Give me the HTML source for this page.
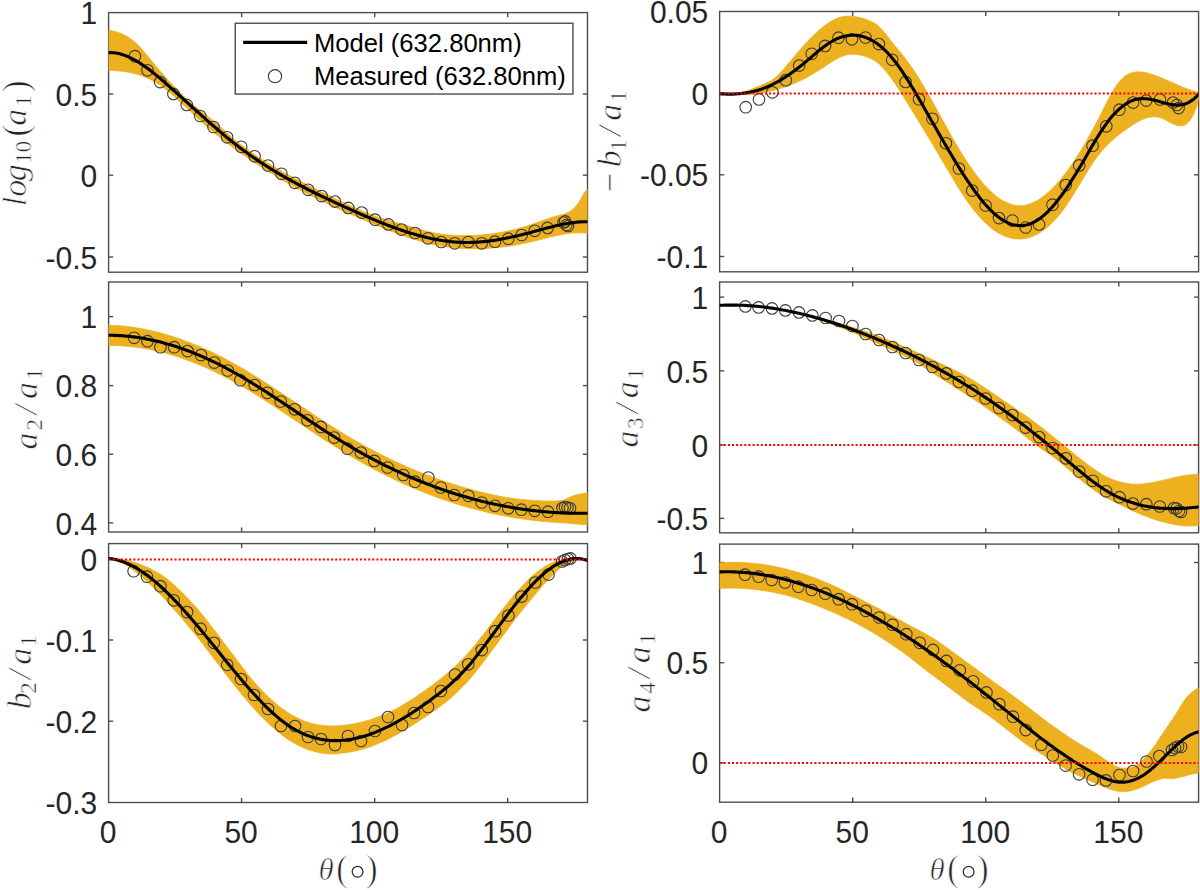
<!DOCTYPE html>
<html><head><meta charset="utf-8"><style>
html,body{margin:0;padding:0;background:#fff;width:1200px;height:890px;overflow:hidden}
svg{display:block}
.tk{font-family:"Liberation Sans",sans-serif;font-size:30px;fill:#262626}
.lg{font-family:"Liberation Sans",sans-serif;font-size:25.6px;fill:#000}
.yl{font-family:"Liberation Serif",serif;font-style:italic;font-size:34px;fill:#262626;stroke:#fff;stroke-width:0.7px}
.ys{font-family:"Liberation Serif",serif;font-size:23px;fill:#262626;stroke:#fff;stroke-width:0.5px}
.yp{font-family:"Liberation Serif",serif;font-size:38px;fill:#262626;stroke:#fff;stroke-width:0.9px}
.ym{font-family:"Liberation Serif",serif;font-size:34px;fill:#262626;stroke:#fff;stroke-width:0.5px}
.th{font-family:"Liberation Serif",serif;font-style:italic;font-size:31px;fill:#262626;stroke:#fff;stroke-width:0.7px}
.xp{font-family:"Liberation Serif",serif;font-size:37px;fill:#262626;stroke:#fff;stroke-width:0.9px}
</style></head><body>
<svg width="1200" height="890" viewBox="0 0 1200 890">
<rect width="1200" height="890" fill="#fff"/>
<clipPath id="cs1"><rect x="108.6" y="12.6" width="478.9" height="259.6"/></clipPath>
<rect x="108.6" y="12.6" width="478.9" height="259.6" fill="none" stroke="#4d4d4d" stroke-width="1.4"/>
<line x1="108.6" y1="94" x2="113.19999999999999" y2="94" stroke="#4d4d4d" stroke-width="1.4"/>
<line x1="587.5" y1="94" x2="582.9" y2="94" stroke="#4d4d4d" stroke-width="1.4"/>
<line x1="108.6" y1="175.2" x2="113.19999999999999" y2="175.2" stroke="#4d4d4d" stroke-width="1.4"/>
<line x1="587.5" y1="175.2" x2="582.9" y2="175.2" stroke="#4d4d4d" stroke-width="1.4"/>
<line x1="108.6" y1="257" x2="113.19999999999999" y2="257" stroke="#4d4d4d" stroke-width="1.4"/>
<line x1="587.5" y1="257" x2="582.9" y2="257" stroke="#4d4d4d" stroke-width="1.4"/>
<line x1="241.6" y1="12.6" x2="241.6" y2="17.2" stroke="#4d4d4d" stroke-width="1.4"/>
<line x1="241.6" y1="272.2" x2="241.6" y2="267.59999999999997" stroke="#4d4d4d" stroke-width="1.4"/>
<line x1="374.7" y1="12.6" x2="374.7" y2="17.2" stroke="#4d4d4d" stroke-width="1.4"/>
<line x1="374.7" y1="272.2" x2="374.7" y2="267.59999999999997" stroke="#4d4d4d" stroke-width="1.4"/>
<line x1="507.7" y1="12.6" x2="507.7" y2="17.2" stroke="#4d4d4d" stroke-width="1.4"/>
<line x1="507.7" y1="272.2" x2="507.7" y2="267.59999999999997" stroke="#4d4d4d" stroke-width="1.4"/>
<g clip-path="url(#cs1)">
<polygon points="107.6,30.1 109.2,30.3 110.8,30.6 112.4,30.9 114.0,31.3 115.6,31.7 117.3,32.2 118.9,32.7 120.5,33.3 122.1,34.0 123.7,34.7 125.3,35.5 126.9,36.4 128.5,37.4 130.1,38.4 131.7,39.6 133.3,40.9 134.9,42.2 136.6,43.7 138.2,45.2 139.8,46.9 141.4,48.7 143.0,50.5 144.6,52.4 146.2,54.3 147.8,56.2 149.4,58.2 151.0,60.2 152.6,62.2 154.2,64.1 155.9,66.0 157.5,68.0 159.1,69.8 160.7,71.7 162.3,73.6 163.9,75.4 165.5,77.2 167.1,79.0 168.7,80.8 170.3,82.6 171.9,84.3 173.5,86.0 175.2,87.7 176.8,89.3 178.4,91.0 180.0,92.6 181.6,94.2 183.2,95.7 184.8,97.3 186.4,98.8 188.0,100.3 189.6,101.7 191.2,103.2 192.8,104.6 194.5,106.0 196.1,107.3 197.7,108.6 199.3,109.9 200.9,111.2 202.5,112.4 204.1,113.7 205.7,114.9 207.3,116.1 208.9,117.3 210.5,118.6 212.1,119.8 213.8,121.2 215.4,122.5 217.0,123.9 218.6,125.3 220.2,126.8 221.8,128.2 223.4,129.7 225.0,131.2 226.6,132.7 228.2,134.1 229.8,135.6 231.4,137.0 233.1,138.4 234.7,139.7 236.3,141.0 237.9,142.3 239.5,143.6 241.1,144.8 242.7,146.1 244.3,147.3 245.9,148.4 247.5,149.6 249.1,150.8 250.7,151.9 252.4,153.0 254.0,154.1 255.6,155.2 257.2,156.3 258.8,157.3 260.4,158.4 262.0,159.4 263.6,160.4 265.2,161.4 266.8,162.4 268.4,163.4 270.0,164.4 271.7,165.4 273.3,166.3 274.9,167.3 276.5,168.2 278.1,169.2 279.7,170.1 281.3,171.0 282.9,171.9 284.5,172.8 286.1,173.7 287.7,174.6 289.3,175.4 291.0,176.3 292.6,177.2 294.2,178.0 295.8,178.9 297.4,179.7 299.0,180.6 300.6,181.4 302.2,182.2 303.8,183.1 305.4,183.9 307.0,184.7 308.6,185.5 310.3,186.3 311.9,187.1 313.5,187.9 315.1,188.7 316.7,189.5 318.3,190.3 319.9,191.1 321.5,191.9 323.1,192.7 324.7,193.5 326.3,194.3 327.9,195.1 329.6,195.9 331.2,196.7 332.8,197.5 334.4,198.3 336.0,199.1 337.6,199.8 339.2,200.6 340.8,201.4 342.4,202.2 344.0,202.9 345.6,203.7 347.2,204.4 348.9,205.2 350.5,205.9 352.1,206.6 353.7,207.3 355.3,208.1 356.9,208.8 358.5,209.5 360.1,210.1 361.7,210.8 363.3,211.5 364.9,212.2 366.5,212.8 368.2,213.5 369.8,214.1 371.4,214.7 373.0,215.3 374.6,215.9 376.2,216.5 377.8,217.1 379.4,217.6 381.0,218.2 382.6,218.7 384.2,219.2 385.8,219.8 387.5,220.3 389.1,220.7 390.7,221.2 392.3,221.7 393.9,222.1 395.5,222.5 397.1,223.0 398.7,223.4 400.3,223.8 401.9,224.3 403.5,224.8 405.1,225.2 406.8,225.7 408.4,226.2 410.0,226.6 411.6,227.1 413.2,227.6 414.8,228.0 416.4,228.5 418.0,228.9 419.6,229.4 421.2,229.8 422.8,230.3 424.4,230.7 426.1,231.1 427.7,231.5 429.3,231.9 430.9,232.2 432.5,232.6 434.1,232.9 435.7,233.2 437.3,233.5 438.9,233.7 440.5,234.0 442.1,234.2 443.7,234.4 445.4,234.6 447.0,234.8 448.6,234.9 450.2,235.0 451.8,235.2 453.4,235.3 455.0,235.4 456.6,235.4 458.2,235.5 459.8,235.5 461.4,235.6 463.0,235.6 464.7,235.6 466.3,235.6 467.9,235.6 469.5,235.5 471.1,235.5 472.7,235.4 474.3,235.3 475.9,235.3 477.5,235.2 479.1,235.1 480.7,234.9 482.3,234.8 484.0,234.7 485.6,234.5 487.2,234.3 488.8,234.2 490.4,234.0 492.0,233.8 493.6,233.5 495.2,233.3 496.8,233.1 498.4,232.8 500.0,232.5 501.6,232.2 503.3,231.9 504.9,231.6 506.5,231.3 508.1,231.0 509.7,230.6 511.3,230.3 512.9,229.9 514.5,229.5 516.1,229.1 517.7,228.7 519.3,228.2 520.9,227.8 522.6,227.3 524.2,226.9 525.8,226.4 527.4,225.9 529.0,225.4 530.6,224.9 532.2,224.3 533.8,223.8 535.4,223.2 537.0,222.6 538.6,222.1 540.2,221.5 541.9,220.9 543.5,220.3 545.1,219.7 546.7,219.2 548.3,218.6 549.9,218.1 551.5,217.5 553.1,217.0 554.7,216.5 556.3,216.1 557.9,215.6 559.5,215.2 561.2,214.8 562.8,214.4 564.4,214.0 566.0,213.4 567.6,212.7 569.2,211.9 570.8,210.9 572.4,209.7 574.0,208.3 575.6,206.6 577.2,204.6 578.8,202.3 580.5,199.6 582.1,196.6 583.7,193.8 585.3,191.4 586.9,189.9 588.5,189.5 588.5,233.4 586.9,233.2 585.3,233.0 583.7,232.9 582.1,232.8 580.5,232.8 578.8,232.8 577.2,232.8 575.6,232.9 574.0,232.9 572.4,233.1 570.8,233.2 569.2,233.4 567.6,233.6 566.0,233.8 564.4,234.1 562.8,234.4 561.2,234.7 559.5,235.0 557.9,235.3 556.3,235.6 554.7,236.0 553.1,236.4 551.5,236.8 549.9,237.1 548.3,237.5 546.7,237.9 545.1,238.3 543.5,238.8 541.9,239.2 540.2,239.6 538.6,240.0 537.0,240.4 535.4,240.8 533.8,241.2 532.2,241.6 530.6,241.9 529.0,242.3 527.4,242.7 525.8,243.0 524.2,243.3 522.6,243.7 520.9,244.0 519.3,244.3 517.7,244.6 516.1,244.9 514.5,245.2 512.9,245.5 511.3,245.7 509.7,246.0 508.1,246.2 506.5,246.4 504.9,246.7 503.3,246.9 501.6,247.1 500.0,247.3 498.4,247.4 496.8,247.6 495.2,247.8 493.6,247.9 492.0,248.0 490.4,248.2 488.8,248.3 487.2,248.4 485.6,248.5 484.0,248.6 482.3,248.6 480.7,248.7 479.1,248.7 477.5,248.7 475.9,248.8 474.3,248.8 472.7,248.8 471.1,248.7 469.5,248.7 467.9,248.7 466.3,248.6 464.7,248.5 463.0,248.4 461.4,248.4 459.8,248.2 458.2,248.1 456.6,248.0 455.0,247.8 453.4,247.7 451.8,247.5 450.2,247.3 448.6,247.1 447.0,246.9 445.4,246.6 443.7,246.4 442.1,246.1 440.5,245.9 438.9,245.6 437.3,245.3 435.7,244.9 434.1,244.6 432.5,244.3 430.9,243.9 429.3,243.5 427.7,243.1 426.1,242.7 424.4,242.3 422.8,241.9 421.2,241.4 419.6,241.0 418.0,240.5 416.4,240.0 414.8,239.5 413.2,239.0 411.6,238.5 410.0,238.0 408.4,237.4 406.8,236.9 405.1,236.3 403.5,235.8 401.9,235.2 400.3,234.6 398.7,234.0 397.1,233.4 395.5,232.8 393.9,232.2 392.3,231.6 390.7,231.0 389.1,230.3 387.5,229.7 385.8,229.0 384.2,228.4 382.6,227.7 381.0,227.1 379.4,226.4 377.8,225.8 376.2,225.1 374.6,224.4 373.0,223.7 371.4,223.1 369.8,222.4 368.2,221.7 366.5,221.0 364.9,220.3 363.3,219.6 361.7,219.0 360.1,218.3 358.5,217.6 356.9,216.9 355.3,216.2 353.7,215.5 352.1,214.8 350.5,214.1 348.9,213.4 347.2,212.7 345.6,211.9 344.0,211.2 342.4,210.5 340.8,209.8 339.2,209.1 337.6,208.3 336.0,207.6 334.4,206.9 332.8,206.1 331.2,205.4 329.6,204.6 327.9,203.9 326.3,203.1 324.7,202.3 323.1,201.6 321.5,200.8 319.9,200.0 318.3,199.2 316.7,198.4 315.1,197.6 313.5,196.8 311.9,196.0 310.3,195.2 308.6,194.4 307.0,193.5 305.4,192.7 303.8,191.9 302.2,191.0 300.6,190.2 299.0,189.3 297.4,188.4 295.8,187.5 294.2,186.6 292.6,185.8 291.0,184.8 289.3,183.9 287.7,183.0 286.1,182.1 284.5,181.2 282.9,180.2 281.3,179.3 279.7,178.3 278.1,177.4 276.5,176.4 274.9,175.4 273.3,174.4 271.7,173.4 270.0,172.4 268.4,171.4 266.8,170.4 265.2,169.4 263.6,168.4 262.0,167.4 260.4,166.3 258.8,165.3 257.2,164.2 255.6,163.1 254.0,162.1 252.4,161.0 250.7,159.9 249.1,158.8 247.5,157.7 245.9,156.6 244.3,155.5 242.7,154.4 241.1,153.3 239.5,152.1 237.9,151.0 236.3,149.8 234.7,148.6 233.1,147.5 231.4,146.3 229.8,145.1 228.2,143.8 226.6,142.6 225.0,141.4 223.4,140.1 221.8,138.9 220.2,137.6 218.6,136.3 217.0,135.0 215.4,133.7 213.8,132.4 212.1,131.1 210.5,129.7 208.9,128.3 207.3,127.0 205.7,125.6 204.1,124.2 202.5,122.7 200.9,121.3 199.3,119.8 197.7,118.4 196.1,116.9 194.5,115.4 192.8,113.9 191.2,112.4 189.6,110.8 188.0,109.3 186.4,107.8 184.8,106.3 183.2,104.7 181.6,103.2 180.0,101.7 178.4,100.2 176.8,98.7 175.2,97.3 173.5,95.8 171.9,94.4 170.3,93.0 168.7,91.7 167.1,90.4 165.5,89.1 163.9,87.9 162.3,86.7 160.7,85.6 159.1,84.5 157.5,83.5 155.9,82.5 154.2,81.5 152.6,80.6 151.0,79.8 149.4,78.9 147.8,78.2 146.2,77.5 144.6,76.8 143.0,76.2 141.4,75.6 139.8,75.1 138.2,74.6 136.6,74.1 134.9,73.7 133.3,73.3 131.7,72.9 130.1,72.6 128.5,72.3 126.9,72.0 125.3,71.7 123.7,71.5 122.1,71.3 120.5,71.1 118.9,71.0 117.3,70.8 115.6,70.7 114.0,70.6 112.4,70.5 110.8,70.4 109.2,70.3 107.6,70.3" fill="#EDB120" stroke="#EDB120" stroke-width="0.8"/>
<g fill="none" stroke="#3c3c3c" stroke-width="1.1">
<circle cx="134.9" cy="56.2" r="5.8"/>
<circle cx="147.5" cy="70.3" r="5.8"/>
<circle cx="160.1" cy="82.1" r="5.8"/>
<circle cx="173.4" cy="93.9" r="5.8"/>
<circle cx="186.8" cy="104.9" r="5.8"/>
<circle cx="200.2" cy="116.0" r="5.8"/>
<circle cx="213.5" cy="127.0" r="5.8"/>
<circle cx="227.1" cy="137.3" r="5.8"/>
<circle cx="241.2" cy="146.8" r="5.8"/>
<circle cx="254.6" cy="156.3" r="5.8"/>
<circle cx="268.0" cy="165.5" r="5.8"/>
<circle cx="281.4" cy="173.8" r="5.8"/>
<circle cx="294.8" cy="182.8" r="5.8"/>
<circle cx="308.2" cy="189.8" r="5.8"/>
<circle cx="321.6" cy="196.1" r="5.8"/>
<circle cx="334.9" cy="201.6" r="5.8"/>
<circle cx="348.3" cy="207.9" r="5.8"/>
<circle cx="361.7" cy="212.6" r="5.8"/>
<circle cx="375.1" cy="219.7" r="5.8"/>
<circle cx="388.4" cy="224.4" r="5.8"/>
<circle cx="401.5" cy="229.6" r="5.8"/>
<circle cx="415.0" cy="233.0" r="5.8"/>
<circle cx="428.0" cy="238.3" r="5.8"/>
<circle cx="441.3" cy="242.0" r="5.8"/>
<circle cx="454.7" cy="243.3" r="5.8"/>
<circle cx="468.3" cy="242.0" r="5.8"/>
<circle cx="481.7" cy="243.3" r="5.8"/>
<circle cx="495.0" cy="241.7" r="5.8"/>
<circle cx="508.3" cy="238.7" r="5.8"/>
<circle cx="521.7" cy="235.0" r="5.8"/>
<circle cx="534.7" cy="230.8" r="5.8"/>
<circle cx="547.6" cy="227.9" r="5.8"/>
<circle cx="563.5" cy="222.5" r="5.8"/>
<circle cx="565.2" cy="221.4" r="5.8"/>
<circle cx="566.5" cy="225.0" r="5.8"/>
<circle cx="568.0" cy="226.0" r="5.8"/>
</g>
<polyline points="107.6,52.7 109.2,52.6 110.8,52.6 112.4,52.7 114.0,52.8 115.6,53.0 117.3,53.3 118.9,53.6 120.5,54.0 122.1,54.5 123.7,55.0 125.3,55.6 126.9,56.2 128.5,56.9 130.1,57.7 131.7,58.4 133.3,59.3 134.9,60.1 136.6,61.1 138.2,62.0 139.8,63.0 141.4,64.1 143.0,65.2 144.6,66.3 146.2,67.4 147.8,68.6 149.4,69.8 151.0,71.0 152.6,72.3 154.2,73.6 155.9,74.9 157.5,76.2 159.1,77.6 160.7,78.9 162.3,80.3 163.9,81.7 165.5,83.1 167.1,84.5 168.7,85.9 170.3,87.3 171.9,88.8 173.5,90.2 175.2,91.6 176.8,93.1 178.4,94.5 180.0,96.0 181.6,97.4 183.2,98.9 184.8,100.3 186.4,101.8 188.0,103.2 189.6,104.7 191.2,106.1 192.8,107.6 194.5,109.1 196.1,110.5 197.7,112.0 199.3,113.4 200.9,114.8 202.5,116.3 204.1,117.7 205.7,119.2 207.3,120.6 208.9,122.0 210.5,123.4 212.1,124.8 213.8,126.2 215.4,127.6 217.0,129.0 218.6,130.4 220.2,131.8 221.8,133.1 223.4,134.5 225.0,135.8 226.6,137.2 228.2,138.5 229.8,139.8 231.4,141.1 233.1,142.4 234.7,143.6 236.3,144.9 237.9,146.1 239.5,147.4 241.1,148.6 242.7,149.8 244.3,151.0 245.9,152.1 247.5,153.3 249.1,154.4 250.7,155.6 252.4,156.7 254.0,157.8 255.6,158.9 257.2,160.0 258.8,161.1 260.4,162.2 262.0,163.2 263.6,164.3 265.2,165.3 266.8,166.3 268.4,167.3 270.0,168.3 271.7,169.3 273.3,170.3 274.9,171.3 276.5,172.2 278.1,173.2 279.7,174.1 281.3,175.1 282.9,176.0 284.5,176.9 286.1,177.8 287.7,178.7 289.3,179.6 291.0,180.5 292.6,181.4 294.2,182.2 295.8,183.1 297.4,184.0 299.0,184.8 300.6,185.7 302.2,186.5 303.8,187.3 305.4,188.2 307.0,189.0 308.6,189.8 310.3,190.6 311.9,191.4 313.5,192.2 315.1,193.0 316.7,193.8 318.3,194.5 319.9,195.3 321.5,196.1 323.1,196.9 324.7,197.6 326.3,198.4 327.9,199.1 329.6,199.9 331.2,200.6 332.8,201.4 334.4,202.1 336.0,202.9 337.6,203.6 339.2,204.4 340.8,205.1 342.4,205.8 344.0,206.6 345.6,207.3 347.2,208.0 348.9,208.7 350.5,209.5 352.1,210.2 353.7,210.9 355.3,211.6 356.9,212.3 358.5,213.0 360.1,213.8 361.7,214.5 363.3,215.2 364.9,215.9 366.5,216.5 368.2,217.2 369.8,217.9 371.4,218.6 373.0,219.3 374.6,219.9 376.2,220.6 377.8,221.3 379.4,221.9 381.0,222.6 382.6,223.2 384.2,223.8 385.8,224.4 387.5,225.1 389.1,225.7 390.7,226.3 392.3,226.9 393.9,227.5 395.5,228.0 397.1,228.6 398.7,229.2 400.3,229.7 401.9,230.3 403.5,230.8 405.1,231.4 406.8,231.9 408.4,232.4 410.0,232.9 411.6,233.4 413.2,233.8 414.8,234.3 416.4,234.8 418.0,235.2 419.6,235.7 421.2,236.1 422.8,236.5 424.4,236.9 426.1,237.3 427.7,237.7 429.3,238.0 430.9,238.4 432.5,238.7 434.1,239.0 435.7,239.4 437.3,239.6 438.9,239.9 440.5,240.2 442.1,240.5 443.7,240.7 445.4,240.9 447.0,241.1 448.6,241.3 450.2,241.5 451.8,241.7 453.4,241.9 455.0,242.0 456.6,242.1 458.2,242.2 459.8,242.3 461.4,242.4 463.0,242.4 464.7,242.5 466.3,242.5 467.9,242.5 469.5,242.5 471.1,242.4 472.7,242.4 474.3,242.3 475.9,242.2 477.5,242.1 479.1,242.0 480.7,241.9 482.3,241.8 484.0,241.6 485.6,241.4 487.2,241.3 488.8,241.1 490.4,240.9 492.0,240.6 493.6,240.4 495.2,240.2 496.8,239.9 498.4,239.6 500.0,239.4 501.6,239.1 503.3,238.8 504.9,238.5 506.5,238.1 508.1,237.8 509.7,237.5 511.3,237.1 512.9,236.8 514.5,236.4 516.1,236.0 517.7,235.7 519.3,235.3 520.9,234.9 522.6,234.5 524.2,234.1 525.8,233.7 527.4,233.3 529.0,232.9 530.6,232.4 532.2,232.0 533.8,231.6 535.4,231.1 537.0,230.7 538.6,230.3 540.2,229.8 541.9,229.4 543.5,229.0 545.1,228.5 546.7,228.1 548.3,227.7 549.9,227.3 551.5,226.9 553.1,226.5 554.7,226.1 556.3,225.7 557.9,225.3 559.5,225.0 561.2,224.6 562.8,224.3 564.4,224.0 566.0,223.7 567.6,223.4 569.2,223.1 570.8,222.9 572.4,222.7 574.0,222.5 575.6,222.3 577.2,222.1 578.8,222.0 580.5,221.9 582.1,221.8 583.7,221.8 585.3,221.7 586.9,221.7 588.5,221.8" fill="none" stroke="#000" stroke-width="3.1" stroke-linejoin="round"/>

</g>
<text transform="translate(97.3,24.2) scale(1,1.06)" text-anchor="end" class="tk">1</text>
<text transform="translate(97.3,105.6) scale(1,1.06)" text-anchor="end" class="tk">0.5</text>
<text transform="translate(97.3,186.8) scale(1,1.06)" text-anchor="end" class="tk">0</text>
<text transform="translate(97.3,268.6) scale(1,1.06)" text-anchor="end" class="tk">-0.5</text>
<clipPath id="cs2"><rect x="108.6" y="282" width="478.9" height="250.0"/></clipPath>
<rect x="108.6" y="282" width="478.9" height="250.0" fill="none" stroke="#4d4d4d" stroke-width="1.4"/>
<line x1="108.6" y1="316.6" x2="113.19999999999999" y2="316.6" stroke="#4d4d4d" stroke-width="1.4"/>
<line x1="587.5" y1="316.6" x2="582.9" y2="316.6" stroke="#4d4d4d" stroke-width="1.4"/>
<line x1="108.6" y1="385.6" x2="113.19999999999999" y2="385.6" stroke="#4d4d4d" stroke-width="1.4"/>
<line x1="587.5" y1="385.6" x2="582.9" y2="385.6" stroke="#4d4d4d" stroke-width="1.4"/>
<line x1="108.6" y1="454.2" x2="113.19999999999999" y2="454.2" stroke="#4d4d4d" stroke-width="1.4"/>
<line x1="587.5" y1="454.2" x2="582.9" y2="454.2" stroke="#4d4d4d" stroke-width="1.4"/>
<line x1="108.6" y1="522.9" x2="113.19999999999999" y2="522.9" stroke="#4d4d4d" stroke-width="1.4"/>
<line x1="587.5" y1="522.9" x2="582.9" y2="522.9" stroke="#4d4d4d" stroke-width="1.4"/>
<line x1="241.6" y1="282" x2="241.6" y2="286.6" stroke="#4d4d4d" stroke-width="1.4"/>
<line x1="241.6" y1="532" x2="241.6" y2="527.4" stroke="#4d4d4d" stroke-width="1.4"/>
<line x1="374.7" y1="282" x2="374.7" y2="286.6" stroke="#4d4d4d" stroke-width="1.4"/>
<line x1="374.7" y1="532" x2="374.7" y2="527.4" stroke="#4d4d4d" stroke-width="1.4"/>
<line x1="507.7" y1="282" x2="507.7" y2="286.6" stroke="#4d4d4d" stroke-width="1.4"/>
<line x1="507.7" y1="532" x2="507.7" y2="527.4" stroke="#4d4d4d" stroke-width="1.4"/>
<g clip-path="url(#cs2)">
<polygon points="107.6,325.3 109.2,325.3 110.8,325.3 112.4,325.4 114.0,325.4 115.6,325.5 117.3,325.6 118.9,325.7 120.5,325.8 122.1,326.0 123.7,326.1 125.3,326.3 126.9,326.5 128.5,326.7 130.1,326.9 131.7,327.1 133.3,327.3 134.9,327.5 136.6,327.8 138.2,328.0 139.8,328.3 141.4,328.6 143.0,328.9 144.6,329.2 146.2,329.5 147.8,329.9 149.4,330.2 151.0,330.6 152.6,331.0 154.2,331.4 155.9,331.7 157.5,332.2 159.1,332.6 160.7,333.0 162.3,333.4 163.9,333.9 165.5,334.4 167.1,334.8 168.7,335.3 170.3,335.8 171.9,336.3 173.5,336.8 175.2,337.4 176.8,337.9 178.4,338.5 180.0,339.0 181.6,339.6 183.2,340.2 184.8,340.8 186.4,341.4 188.0,342.0 189.6,342.6 191.2,343.2 192.8,343.9 194.5,344.5 196.1,345.2 197.7,345.8 199.3,346.5 200.9,347.2 202.5,347.9 204.1,348.6 205.7,349.3 207.3,350.1 208.9,350.8 210.5,351.5 212.1,352.3 213.8,353.1 215.4,353.9 217.0,354.6 218.6,355.4 220.2,356.3 221.8,357.1 223.4,357.9 225.0,358.7 226.6,359.6 228.2,360.5 229.8,361.3 231.4,362.2 233.1,363.1 234.7,364.0 236.3,364.9 237.9,365.8 239.5,366.7 241.1,367.7 242.7,368.6 244.3,369.6 245.9,370.5 247.5,371.5 249.1,372.5 250.7,373.4 252.4,374.4 254.0,375.4 255.6,376.4 257.2,377.4 258.8,378.4 260.4,379.4 262.0,380.5 263.6,381.5 265.2,382.5 266.8,383.5 268.4,384.6 270.0,385.6 271.7,386.7 273.3,387.7 274.9,388.8 276.5,389.8 278.1,390.9 279.7,392.0 281.3,393.0 282.9,394.1 284.5,395.2 286.1,396.2 287.7,397.3 289.3,398.4 291.0,399.4 292.6,400.5 294.2,401.6 295.8,402.7 297.4,403.8 299.0,404.8 300.6,405.9 302.2,407.0 303.8,408.1 305.4,409.1 307.0,410.2 308.6,411.3 310.3,412.3 311.9,413.4 313.5,414.5 315.1,415.5 316.7,416.6 318.3,417.7 319.9,418.7 321.5,419.8 323.1,420.8 324.7,421.8 326.3,422.9 327.9,423.9 329.6,424.9 331.2,426.0 332.8,427.0 334.4,428.0 336.0,429.0 337.6,430.0 339.2,431.0 340.8,432.0 342.4,433.0 344.0,434.0 345.6,434.9 347.2,435.9 348.9,436.9 350.5,437.8 352.1,438.8 353.7,439.7 355.3,440.6 356.9,441.5 358.5,442.5 360.1,443.4 361.7,444.3 363.3,445.2 364.9,446.0 366.5,446.9 368.2,447.8 369.8,448.7 371.4,449.5 373.0,450.4 374.6,451.2 376.2,452.1 377.8,452.9 379.4,453.7 381.0,454.5 382.6,455.3 384.2,456.1 385.8,456.9 387.5,457.7 389.1,458.5 390.7,459.3 392.3,460.1 393.9,460.8 395.5,461.6 397.1,462.3 398.7,463.1 400.3,463.8 401.9,464.5 403.5,465.3 405.1,466.0 406.8,466.7 408.4,467.4 410.0,468.1 411.6,468.8 413.2,469.5 414.8,470.1 416.4,470.8 418.0,471.5 419.6,472.1 421.2,472.8 422.8,473.4 424.4,474.0 426.1,474.7 427.7,475.3 429.3,475.9 430.9,476.5 432.5,477.1 434.1,477.7 435.7,478.3 437.3,478.9 438.9,479.4 440.5,480.0 442.1,480.6 443.7,481.1 445.4,481.7 447.0,482.2 448.6,482.7 450.2,483.3 451.8,483.8 453.4,484.3 455.0,484.8 456.6,485.3 458.2,485.8 459.8,486.3 461.4,486.8 463.0,487.2 464.7,487.7 466.3,488.2 467.9,488.6 469.5,489.1 471.1,489.5 472.7,489.9 474.3,490.4 475.9,490.8 477.5,491.2 479.1,491.6 480.7,492.0 482.3,492.4 484.0,492.8 485.6,493.2 487.2,493.5 488.8,493.9 490.4,494.3 492.0,494.6 493.6,495.0 495.2,495.3 496.8,495.6 498.4,496.0 500.0,496.3 501.6,496.6 503.3,496.9 504.9,497.2 506.5,497.5 508.1,497.7 509.7,498.0 511.3,498.2 512.9,498.4 514.5,498.6 516.1,498.8 517.7,499.0 519.3,499.2 520.9,499.4 522.6,499.5 524.2,499.7 525.8,499.8 527.4,500.0 529.0,500.1 530.6,500.2 532.2,500.3 533.8,500.4 535.4,500.5 537.0,500.6 538.6,500.7 540.2,500.8 541.9,500.9 543.5,500.9 545.1,501.0 546.7,501.0 548.3,501.1 549.9,501.1 551.5,501.1 553.1,501.1 554.7,501.1 556.3,501.0 557.9,500.9 559.5,500.8 561.2,500.6 562.8,500.3 564.4,499.7 566.0,499.1 567.6,498.3 569.2,497.6 570.8,496.8 572.4,496.1 574.0,495.6 575.6,495.1 577.2,494.7 578.8,494.4 580.5,494.0 582.1,493.7 583.7,493.4 585.3,493.1 586.9,492.9 588.5,492.7 588.5,525.0 586.9,524.8 585.3,524.7 583.7,524.6 582.1,524.5 580.5,524.3 578.8,524.2 577.2,524.0 575.6,523.9 574.0,523.7 572.4,523.6 570.8,523.4 569.2,523.3 567.6,523.1 566.0,523.0 564.4,522.9 562.8,522.8 561.2,522.7 559.5,522.6 557.9,522.5 556.3,522.4 554.7,522.3 553.1,522.2 551.5,522.1 549.9,522.0 548.3,521.8 546.7,521.7 545.1,521.6 543.5,521.4 541.9,521.3 540.2,521.1 538.6,520.9 537.0,520.8 535.4,520.6 533.8,520.4 532.2,520.2 530.6,520.0 529.0,519.8 527.4,519.6 525.8,519.4 524.2,519.2 522.6,519.0 520.9,518.7 519.3,518.5 517.7,518.2 516.1,518.0 514.5,517.7 512.9,517.5 511.3,517.2 509.7,516.9 508.1,516.6 506.5,516.3 504.9,516.0 503.3,515.7 501.6,515.4 500.0,515.1 498.4,514.8 496.8,514.4 495.2,514.1 493.6,513.8 492.0,513.4 490.4,513.0 488.8,512.7 487.2,512.3 485.6,511.9 484.0,511.5 482.3,511.1 480.7,510.7 479.1,510.3 477.5,509.9 475.9,509.5 474.3,509.1 472.7,508.7 471.1,508.2 469.5,507.8 467.9,507.3 466.3,506.9 464.7,506.4 463.0,505.9 461.4,505.4 459.8,505.0 458.2,504.5 456.6,504.0 455.0,503.5 453.4,502.9 451.8,502.4 450.2,501.9 448.6,501.4 447.0,500.8 445.4,500.3 443.7,499.7 442.1,499.2 440.5,498.6 438.9,498.0 437.3,497.4 435.7,496.8 434.1,496.2 432.5,495.6 430.9,495.0 429.3,494.4 427.7,493.8 426.1,493.2 424.4,492.5 422.8,491.9 421.2,491.2 419.6,490.6 418.0,489.9 416.4,489.3 414.8,488.6 413.2,487.9 411.6,487.2 410.0,486.5 408.4,485.8 406.8,485.1 405.1,484.4 403.5,483.7 401.9,482.9 400.3,482.2 398.7,481.4 397.1,480.7 395.5,479.9 393.9,479.2 392.3,478.4 390.7,477.6 389.1,476.8 387.5,476.0 385.8,475.2 384.2,474.4 382.6,473.6 381.0,472.8 379.4,472.0 377.8,471.1 376.2,470.3 374.6,469.5 373.0,468.6 371.4,467.7 369.8,466.9 368.2,466.0 366.5,465.1 364.9,464.2 363.3,463.3 361.7,462.4 360.1,461.5 358.5,460.6 356.9,459.7 355.3,458.8 353.7,457.8 352.1,456.9 350.5,455.9 348.9,455.0 347.2,454.0 345.6,453.1 344.0,452.1 342.4,451.1 340.8,450.1 339.2,449.1 337.6,448.1 336.0,447.1 334.4,446.1 332.8,445.1 331.2,444.0 329.6,443.0 327.9,442.0 326.3,440.9 324.7,439.9 323.1,438.8 321.5,437.8 319.9,436.7 318.3,435.7 316.7,434.6 315.1,433.6 313.5,432.5 311.9,431.4 310.3,430.4 308.6,429.3 307.0,428.2 305.4,427.1 303.8,426.1 302.2,425.0 300.6,423.9 299.0,422.8 297.4,421.8 295.8,420.7 294.2,419.6 292.6,418.5 291.0,417.5 289.3,416.4 287.7,415.3 286.1,414.2 284.5,413.2 282.9,412.1 281.3,411.0 279.7,410.0 278.1,408.9 276.5,407.9 274.9,406.8 273.3,405.8 271.7,404.7 270.0,403.7 268.4,402.6 266.8,401.6 265.2,400.6 263.6,399.5 262.0,398.5 260.4,397.5 258.8,396.5 257.2,395.5 255.6,394.5 254.0,393.5 252.4,392.5 250.7,391.5 249.1,390.5 247.5,389.6 245.9,388.6 244.3,387.7 242.7,386.7 241.1,385.8 239.5,384.9 237.9,384.0 236.3,383.0 234.7,382.1 233.1,381.3 231.4,380.4 229.8,379.5 228.2,378.6 226.6,377.8 225.0,376.9 223.4,376.1 221.8,375.3 220.2,374.5 218.6,373.7 217.0,372.9 215.4,372.1 213.8,371.3 212.1,370.6 210.5,369.8 208.9,369.1 207.3,368.3 205.7,367.6 204.1,366.9 202.5,366.2 200.9,365.5 199.3,364.9 197.7,364.2 196.1,363.5 194.5,362.9 192.8,362.3 191.2,361.6 189.6,361.0 188.0,360.4 186.4,359.8 184.8,359.2 183.2,358.7 181.6,358.1 180.0,357.6 178.4,357.0 176.8,356.5 175.2,356.0 173.5,355.5 171.9,355.0 170.3,354.6 168.7,354.1 167.1,353.6 165.5,353.2 163.9,352.8 162.3,352.3 160.7,351.9 159.1,351.5 157.5,351.2 155.9,350.8 154.2,350.4 152.6,350.1 151.0,349.8 149.4,349.4 147.8,349.1 146.2,348.8 144.6,348.6 143.0,348.3 141.4,348.0 139.8,347.8 138.2,347.5 136.6,347.3 134.9,347.1 133.3,346.9 131.7,346.7 130.1,346.6 128.5,346.4 126.9,346.3 125.3,346.1 123.7,346.0 122.1,345.9 120.5,345.8 118.9,345.8 117.3,345.7 115.6,345.6 114.0,345.6 112.4,345.6 110.8,345.6 109.2,345.6 107.6,345.6" fill="#EDB120" stroke="#EDB120" stroke-width="0.8"/>
<g fill="none" stroke="#3c3c3c" stroke-width="1.1">
<circle cx="134.1" cy="337.8" r="5.8"/>
<circle cx="147.5" cy="341.2" r="5.8"/>
<circle cx="160.4" cy="347.2" r="5.8"/>
<circle cx="174.2" cy="347.2" r="5.8"/>
<circle cx="187.6" cy="351.1" r="5.8"/>
<circle cx="201.0" cy="355.1" r="5.8"/>
<circle cx="214.3" cy="362.6" r="5.8"/>
<circle cx="227.7" cy="370.5" r="5.8"/>
<circle cx="240.3" cy="380.2" r="5.8"/>
<circle cx="254.7" cy="385.0" r="5.8"/>
<circle cx="267.3" cy="392.8" r="5.8"/>
<circle cx="280.7" cy="401.5" r="5.8"/>
<circle cx="294.8" cy="409.3" r="5.8"/>
<circle cx="307.4" cy="420.3" r="5.8"/>
<circle cx="320.8" cy="426.9" r="5.8"/>
<circle cx="334.2" cy="437.6" r="5.8"/>
<circle cx="347.5" cy="448.7" r="5.8"/>
<circle cx="360.9" cy="452.6" r="5.8"/>
<circle cx="374.3" cy="460.9" r="5.8"/>
<circle cx="387.6" cy="467.5" r="5.8"/>
<circle cx="403.3" cy="475.0" r="5.8"/>
<circle cx="415.0" cy="481.7" r="5.8"/>
<circle cx="428.3" cy="477.5" r="5.8"/>
<circle cx="440.8" cy="487.5" r="5.8"/>
<circle cx="454.2" cy="495.0" r="5.8"/>
<circle cx="468.3" cy="495.8" r="5.8"/>
<circle cx="481.7" cy="502.5" r="5.8"/>
<circle cx="495.0" cy="505.8" r="5.8"/>
<circle cx="508.3" cy="508.3" r="5.8"/>
<circle cx="521.3" cy="509.7" r="5.8"/>
<circle cx="534.7" cy="510.8" r="5.8"/>
<circle cx="548.0" cy="511.7" r="5.8"/>
<circle cx="562.5" cy="508.0" r="5.8"/>
<circle cx="565.0" cy="507.0" r="5.8"/>
<circle cx="567.5" cy="507.5" r="5.8"/>
<circle cx="570.0" cy="508.3" r="5.8"/>
</g>
<polyline points="107.6,335.3 109.2,335.3 110.8,335.3 112.4,335.3 114.0,335.4 115.6,335.4 117.3,335.5 118.9,335.6 120.5,335.6 122.1,335.8 123.7,335.9 125.3,336.0 126.9,336.2 128.5,336.3 130.1,336.5 131.7,336.7 133.3,336.9 134.9,337.1 136.6,337.3 138.2,337.5 139.8,337.8 141.4,338.0 143.0,338.3 144.6,338.6 146.2,338.9 147.8,339.2 149.4,339.5 151.0,339.9 152.6,340.2 154.2,340.6 155.9,340.9 157.5,341.3 159.1,341.7 160.7,342.1 162.3,342.5 163.9,343.0 165.5,343.4 167.1,343.9 168.7,344.3 170.3,344.8 171.9,345.3 173.5,345.8 175.2,346.3 176.8,346.8 178.4,347.4 180.0,347.9 181.6,348.5 183.2,349.0 184.8,349.6 186.4,350.2 188.0,350.8 189.6,351.4 191.2,352.0 192.8,352.7 194.5,353.3 196.1,354.0 197.7,354.6 199.3,355.3 200.9,356.0 202.5,356.7 204.1,357.4 205.7,358.1 207.3,358.9 208.9,359.6 210.5,360.3 212.1,361.1 213.8,361.9 215.4,362.7 217.0,363.4 218.6,364.2 220.2,365.1 221.8,365.9 223.4,366.7 225.0,367.5 226.6,368.4 228.2,369.3 229.8,370.1 231.4,371.0 233.1,371.9 234.7,372.8 236.3,373.7 237.9,374.6 239.5,375.5 241.1,376.5 242.7,377.4 244.3,378.4 245.9,379.3 247.5,380.3 249.1,381.3 250.7,382.2 252.4,383.2 254.0,384.2 255.6,385.2 257.2,386.2 258.8,387.2 260.4,388.2 262.0,389.3 263.6,390.3 265.2,391.3 266.8,392.3 268.4,393.4 270.0,394.4 271.7,395.5 273.3,396.5 274.9,397.6 276.5,398.6 278.1,399.7 279.7,400.8 281.3,401.8 282.9,402.9 284.5,404.0 286.1,405.0 287.7,406.1 289.3,407.2 291.0,408.3 292.6,409.3 294.2,410.4 295.8,411.5 297.4,412.6 299.0,413.6 300.6,414.7 302.2,415.8 303.8,416.9 305.4,417.9 307.0,419.0 308.6,420.1 310.3,421.2 311.9,422.2 313.5,423.3 315.1,424.4 316.7,425.4 318.3,426.5 319.9,427.5 321.5,428.6 323.1,429.6 324.7,430.7 326.3,431.7 327.9,432.7 329.6,433.8 331.2,434.8 332.8,435.8 334.4,436.8 336.0,437.8 337.6,438.8 339.2,439.8 340.8,440.8 342.4,441.8 344.0,442.8 345.6,443.8 347.2,444.7 348.9,445.7 350.5,446.6 352.1,447.6 353.7,448.5 355.3,449.5 356.9,450.4 358.5,451.3 360.1,452.2 361.7,453.1 363.3,454.0 364.9,454.9 366.5,455.8 368.2,456.6 369.8,457.5 371.4,458.4 373.0,459.2 374.6,460.1 376.2,460.9 377.8,461.7 379.4,462.6 381.0,463.4 382.6,464.2 384.2,465.0 385.8,465.8 387.5,466.6 389.1,467.4 390.7,468.2 392.3,468.9 393.9,469.7 395.5,470.5 397.1,471.2 398.7,471.9 400.3,472.7 401.9,473.4 403.5,474.1 405.1,474.9 406.8,475.6 408.4,476.3 410.0,477.0 411.6,477.7 413.2,478.3 414.8,479.0 416.4,479.7 418.0,480.3 419.6,481.0 421.2,481.7 422.8,482.3 424.4,482.9 426.1,483.6 427.7,484.2 429.3,484.8 430.9,485.4 432.5,486.0 434.1,486.6 435.7,487.2 437.3,487.8 438.9,488.3 440.5,488.9 442.1,489.5 443.7,490.0 445.4,490.6 447.0,491.1 448.6,491.7 450.2,492.2 451.8,492.7 453.4,493.2 455.0,493.7 456.6,494.2 458.2,494.7 459.8,495.2 461.4,495.7 463.0,496.2 464.7,496.6 466.3,497.1 467.9,497.6 469.5,498.0 471.1,498.4 472.7,498.9 474.3,499.3 475.9,499.7 477.5,500.2 479.1,500.6 480.7,501.0 482.3,501.4 484.0,501.8 485.6,502.1 487.2,502.5 488.8,502.9 490.4,503.2 492.0,503.6 493.6,504.0 495.2,504.3 496.8,504.6 498.4,505.0 500.0,505.3 501.6,505.6 503.3,505.9 504.9,506.2 506.5,506.5 508.1,506.8 509.7,507.1 511.3,507.4 512.9,507.7 514.5,507.9 516.1,508.2 517.7,508.4 519.3,508.7 520.9,508.9 522.6,509.2 524.2,509.4 525.8,509.6 527.4,509.8 529.0,510.0 530.6,510.2 532.2,510.4 533.8,510.6 535.4,510.8 537.0,511.0 538.6,511.1 540.2,511.3 541.9,511.5 543.5,511.6 545.1,511.8 546.7,511.9 548.3,512.0 549.9,512.2 551.5,512.3 553.1,512.4 554.7,512.5 556.3,512.6 557.9,512.7 559.5,512.8 561.2,512.9 562.8,512.9 564.4,513.0 566.0,513.1 567.6,513.1 569.2,513.2 570.8,513.2 572.4,513.2 574.0,513.3 575.6,513.3 577.2,513.3 578.8,513.3 580.5,513.3 582.1,513.3 583.7,513.3 585.3,513.3 586.9,513.3 588.5,513.3" fill="none" stroke="#000" stroke-width="3.1" stroke-linejoin="round"/>

</g>
<text transform="translate(97.3,328.2) scale(1,1.06)" text-anchor="end" class="tk">1</text>
<text transform="translate(97.3,397.2) scale(1,1.06)" text-anchor="end" class="tk">0.8</text>
<text transform="translate(97.3,465.8) scale(1,1.06)" text-anchor="end" class="tk">0.6</text>
<text transform="translate(97.3,534.5) scale(1,1.06)" text-anchor="end" class="tk">0.4</text>
<clipPath id="cs3"><rect x="108.6" y="543.6" width="478.9" height="258.9"/></clipPath>
<rect x="108.6" y="543.6" width="478.9" height="258.9" fill="none" stroke="#4d4d4d" stroke-width="1.4"/>
<line x1="108.6" y1="559.4" x2="113.19999999999999" y2="559.4" stroke="#4d4d4d" stroke-width="1.4"/>
<line x1="587.5" y1="559.4" x2="582.9" y2="559.4" stroke="#4d4d4d" stroke-width="1.4"/>
<line x1="108.6" y1="640" x2="113.19999999999999" y2="640" stroke="#4d4d4d" stroke-width="1.4"/>
<line x1="587.5" y1="640" x2="582.9" y2="640" stroke="#4d4d4d" stroke-width="1.4"/>
<line x1="108.6" y1="721.2" x2="113.19999999999999" y2="721.2" stroke="#4d4d4d" stroke-width="1.4"/>
<line x1="587.5" y1="721.2" x2="582.9" y2="721.2" stroke="#4d4d4d" stroke-width="1.4"/>
<line x1="241.6" y1="543.6" x2="241.6" y2="548.2" stroke="#4d4d4d" stroke-width="1.4"/>
<line x1="241.6" y1="802.5" x2="241.6" y2="797.9" stroke="#4d4d4d" stroke-width="1.4"/>
<line x1="374.7" y1="543.6" x2="374.7" y2="548.2" stroke="#4d4d4d" stroke-width="1.4"/>
<line x1="374.7" y1="802.5" x2="374.7" y2="797.9" stroke="#4d4d4d" stroke-width="1.4"/>
<line x1="507.7" y1="543.6" x2="507.7" y2="548.2" stroke="#4d4d4d" stroke-width="1.4"/>
<line x1="507.7" y1="802.5" x2="507.7" y2="797.9" stroke="#4d4d4d" stroke-width="1.4"/>
<g clip-path="url(#cs3)">
<polygon points="107.6,558.2 109.2,558.2 110.8,558.2 112.4,558.3 114.0,558.4 115.6,558.5 117.3,558.7 118.9,558.9 120.5,559.1 122.1,559.4 123.7,559.7 125.3,560.1 126.9,560.4 128.5,560.8 130.1,561.2 131.7,561.6 133.3,562.1 134.9,562.5 136.6,563.0 138.2,563.5 139.8,564.1 141.4,564.7 143.0,565.4 144.6,566.1 146.2,566.8 147.8,567.6 149.4,568.3 151.0,569.1 152.6,569.9 154.2,570.8 155.9,571.7 157.5,572.6 159.1,573.5 160.7,574.5 162.3,575.6 163.9,576.7 165.5,577.9 167.1,579.1 168.7,580.4 170.3,581.7 171.9,583.1 173.5,584.6 175.2,586.0 176.8,587.5 178.4,589.0 180.0,590.5 181.6,592.0 183.2,593.6 184.8,595.2 186.4,596.9 188.0,598.5 189.6,600.2 191.2,602.0 192.8,603.7 194.5,605.5 196.1,607.3 197.7,609.2 199.3,611.1 200.9,613.0 202.5,615.0 204.1,617.0 205.7,619.0 207.3,621.0 208.9,623.1 210.5,625.2 212.1,627.3 213.8,629.4 215.4,631.5 217.0,633.6 218.6,635.7 220.2,637.9 221.8,640.0 223.4,642.2 225.0,644.3 226.6,646.4 228.2,648.5 229.8,650.7 231.4,652.8 233.1,654.9 234.7,657.0 236.3,659.2 237.9,661.3 239.5,663.4 241.1,665.6 242.7,667.7 244.3,669.8 245.9,671.9 247.5,673.9 249.1,675.9 250.7,677.9 252.4,679.9 254.0,681.8 255.6,683.7 257.2,685.5 258.8,687.2 260.4,688.9 262.0,690.6 263.6,692.2 265.2,693.8 266.8,695.4 268.4,696.9 270.0,698.4 271.7,699.9 273.3,701.3 274.9,702.7 276.5,704.1 278.1,705.4 279.7,706.7 281.3,707.9 282.9,709.1 284.5,710.3 286.1,711.4 287.7,712.4 289.3,713.5 291.0,714.5 292.6,715.4 294.2,716.3 295.8,717.2 297.4,718.0 299.0,718.8 300.6,719.5 302.2,720.2 303.8,720.9 305.4,721.5 307.0,722.0 308.6,722.5 310.3,723.0 311.9,723.4 313.5,723.8 315.1,724.2 316.7,724.5 318.3,724.8 319.9,725.0 321.5,725.2 323.1,725.4 324.7,725.6 326.3,725.7 327.9,725.8 329.6,725.9 331.2,725.9 332.8,726.0 334.4,725.9 336.0,725.9 337.6,725.8 339.2,725.7 340.8,725.6 342.4,725.4 344.0,725.3 345.6,725.1 347.2,724.9 348.9,724.6 350.5,724.4 352.1,724.1 353.7,723.8 355.3,723.5 356.9,723.2 358.5,722.8 360.1,722.5 361.7,722.1 363.3,721.7 364.9,721.3 366.5,720.8 368.2,720.4 369.8,719.9 371.4,719.4 373.0,718.8 374.6,718.3 376.2,717.7 377.8,717.1 379.4,716.5 381.0,715.9 382.6,715.2 384.2,714.6 385.8,713.9 387.5,713.1 389.1,712.4 390.7,711.6 392.3,710.8 393.9,710.0 395.5,709.2 397.1,708.3 398.7,707.4 400.3,706.5 401.9,705.5 403.5,704.6 405.1,703.6 406.8,702.6 408.4,701.6 410.0,700.6 411.6,699.6 413.2,698.5 414.8,697.5 416.4,696.4 418.0,695.3 419.6,694.2 421.2,693.1 422.8,692.0 424.4,690.9 426.1,689.7 427.7,688.6 429.3,687.4 430.9,686.2 432.5,685.0 434.1,683.8 435.7,682.6 437.3,681.4 438.9,680.2 440.5,678.9 442.1,677.6 443.7,676.3 445.4,675.0 447.0,673.6 448.6,672.3 450.2,670.8 451.8,669.4 453.4,668.0 455.0,666.5 456.6,665.0 458.2,663.4 459.8,661.8 461.4,660.2 463.0,658.6 464.7,656.9 466.3,655.1 467.9,653.4 469.5,651.5 471.1,649.7 472.7,647.8 474.3,645.9 475.9,643.9 477.5,641.9 479.1,639.8 480.7,637.8 482.3,635.7 484.0,633.6 485.6,631.5 487.2,629.4 488.8,627.3 490.4,625.2 492.0,623.1 493.6,621.0 495.2,618.9 496.8,616.8 498.4,614.6 500.0,612.6 501.6,610.5 503.3,608.4 504.9,606.4 506.5,604.4 508.1,602.4 509.7,600.4 511.3,598.5 512.9,596.5 514.5,594.6 516.1,592.8 517.7,591.0 519.3,589.2 520.9,587.4 522.6,585.7 524.2,584.0 525.8,582.3 527.4,580.7 529.0,579.1 530.6,577.6 532.2,576.1 533.8,574.7 535.4,573.4 537.0,572.1 538.6,570.9 540.2,569.7 541.9,568.6 543.5,567.5 545.1,566.5 546.7,565.6 548.3,564.7 549.9,563.8 551.5,563.1 553.1,562.4 554.7,561.8 556.3,561.3 557.9,560.9 559.5,560.5 561.2,560.1 562.8,559.7 564.4,559.3 566.0,558.9 567.6,558.5 569.2,558.3 570.8,558.1 572.4,557.9 574.0,557.9 575.6,557.9 577.2,558.0 578.8,558.1 580.5,558.3 582.1,558.6 583.7,559.0 585.3,559.5 586.9,560.0 588.5,560.6 588.5,561.2 586.9,560.6 585.3,560.3 583.7,560.0 582.1,559.8 580.5,559.8 578.8,559.9 577.2,560.1 575.6,560.4 574.0,560.7 572.4,561.2 570.8,561.8 569.2,562.5 567.6,563.2 566.0,564.1 564.4,565.0 562.8,566.1 561.2,567.3 559.5,568.6 557.9,570.0 556.3,571.5 554.7,573.1 553.1,574.7 551.5,576.3 549.9,577.9 548.3,579.5 546.7,581.2 545.1,583.0 543.5,584.8 541.9,586.6 540.2,588.5 538.6,590.4 537.0,592.3 535.4,594.2 533.8,596.1 532.2,598.1 530.6,600.0 529.0,601.9 527.4,603.8 525.8,605.7 524.2,607.7 522.6,609.7 520.9,611.8 519.3,613.8 517.7,615.9 516.1,618.0 514.5,620.1 512.9,622.3 511.3,624.4 509.7,626.5 508.1,628.7 506.5,630.9 504.9,633.0 503.3,635.2 501.6,637.4 500.0,639.6 498.4,641.7 496.8,643.9 495.2,646.1 493.6,648.2 492.0,650.4 490.4,652.6 488.8,654.7 487.2,656.9 485.6,659.1 484.0,661.2 482.3,663.3 480.7,665.4 479.1,667.5 477.5,669.5 475.9,671.6 474.3,673.6 472.7,675.5 471.1,677.4 469.5,679.3 467.9,681.1 466.3,682.9 464.7,684.6 463.0,686.3 461.4,687.9 459.8,689.5 458.2,691.1 456.6,692.6 455.0,694.1 453.4,695.5 451.8,697.0 450.2,698.4 448.6,699.7 447.0,701.1 445.4,702.4 443.7,703.6 442.1,704.9 440.5,706.1 438.9,707.3 437.3,708.5 435.7,709.7 434.1,710.8 432.5,711.9 430.9,713.1 429.3,714.2 427.7,715.3 426.1,716.4 424.4,717.4 422.8,718.5 421.2,719.6 419.6,720.6 418.0,721.7 416.4,722.7 414.8,723.7 413.2,724.7 411.6,725.7 410.0,726.7 408.4,727.7 406.8,728.7 405.1,729.6 403.5,730.6 401.9,731.5 400.3,732.5 398.7,733.4 397.1,734.3 395.5,735.2 393.9,736.1 392.3,736.9 390.7,737.8 389.1,738.6 387.5,739.4 385.8,740.2 384.2,740.9 382.6,741.7 381.0,742.4 379.4,743.1 377.8,743.8 376.2,744.4 374.6,745.1 373.0,745.7 371.4,746.3 369.8,746.9 368.2,747.4 366.5,747.9 364.9,748.4 363.3,748.9 361.7,749.4 360.1,749.8 358.5,750.2 356.9,750.6 355.3,750.9 353.7,751.3 352.1,751.6 350.5,751.9 348.9,752.1 347.2,752.4 345.6,752.6 344.0,752.9 342.4,753.1 340.8,753.3 339.2,753.5 337.6,753.7 336.0,753.8 334.4,753.9 332.8,754.0 331.2,753.9 329.6,753.9 327.9,753.8 326.3,753.7 324.7,753.5 323.1,753.3 321.5,753.1 319.9,752.8 318.3,752.5 316.7,752.1 315.1,751.7 313.5,751.3 311.9,750.8 310.3,750.3 308.6,749.8 307.0,749.2 305.4,748.6 303.8,748.0 302.2,747.3 300.6,746.5 299.0,745.8 297.4,744.9 295.8,744.1 294.2,743.2 292.6,742.3 291.0,741.3 289.3,740.3 287.7,739.2 286.1,738.1 284.5,736.9 282.9,735.7 281.3,734.5 279.7,733.2 278.1,731.9 276.5,730.6 274.9,729.2 273.3,727.8 271.7,726.4 270.0,724.9 268.4,723.4 266.8,721.8 265.2,720.3 263.6,718.7 262.0,717.1 260.4,715.4 258.8,713.7 257.2,712.0 255.6,710.3 254.0,708.5 252.4,706.8 250.7,705.0 249.1,703.1 247.5,701.3 245.9,699.4 244.3,697.5 242.7,695.6 241.1,693.6 239.5,691.6 237.9,689.6 236.3,687.6 234.7,685.6 233.1,683.5 231.4,681.5 229.8,679.4 228.2,677.3 226.6,675.2 225.0,673.1 223.4,671.0 221.8,668.9 220.2,666.8 218.6,664.6 217.0,662.5 215.4,660.4 213.8,658.3 212.1,656.2 210.5,654.1 208.9,652.0 207.3,649.9 205.7,647.8 204.1,645.7 202.5,643.6 200.9,641.6 199.3,639.5 197.7,637.5 196.1,635.5 194.5,633.5 192.8,631.5 191.2,629.6 189.6,627.6 188.0,625.7 186.4,623.8 184.8,621.8 183.2,619.9 181.6,618.1 180.0,616.2 178.4,614.3 176.8,612.5 175.2,610.7 173.5,608.9 171.9,607.1 170.3,605.3 168.7,603.6 167.1,601.8 165.5,600.1 163.9,598.3 162.3,596.6 160.7,595.0 159.1,593.3 157.5,591.6 155.9,590.0 154.2,588.4 152.6,586.8 151.0,585.3 149.4,583.8 147.8,582.3 146.2,580.8 144.6,579.4 143.0,578.0 141.4,576.6 139.8,575.2 138.2,573.8 136.6,572.5 134.9,571.2 133.3,570.0 131.7,568.8 130.1,567.6 128.5,566.6 126.9,565.6 125.3,564.7 123.7,563.8 122.1,563.0 120.5,562.3 118.9,561.6 117.3,561.0 115.6,560.4 114.0,560.0 112.4,559.5 110.8,559.2 109.2,558.9 107.6,558.6" fill="#EDB120" stroke="#EDB120" stroke-width="0.8"/>
<g fill="none" stroke="#3c3c3c" stroke-width="1.1">
<circle cx="133.6" cy="571.2" r="5.8"/>
<circle cx="147.0" cy="576.7" r="5.8"/>
<circle cx="160.4" cy="586.2" r="5.8"/>
<circle cx="173.7" cy="600.3" r="5.8"/>
<circle cx="187.1" cy="612.1" r="5.8"/>
<circle cx="200.5" cy="628.7" r="5.8"/>
<circle cx="213.9" cy="642.8" r="5.8"/>
<circle cx="227.2" cy="664.8" r="5.8"/>
<circle cx="241.0" cy="679.0" r="5.8"/>
<circle cx="254.0" cy="695.0" r="5.8"/>
<circle cx="268.0" cy="709.0" r="5.8"/>
<circle cx="281.0" cy="726.0" r="5.8"/>
<circle cx="295.0" cy="726.0" r="5.8"/>
<circle cx="308.0" cy="737.0" r="5.8"/>
<circle cx="321.0" cy="739.0" r="5.8"/>
<circle cx="335.0" cy="745.0" r="5.8"/>
<circle cx="348.0" cy="736.0" r="5.8"/>
<circle cx="361.0" cy="741.0" r="5.8"/>
<circle cx="375.0" cy="731.0" r="5.8"/>
<circle cx="388.0" cy="717.0" r="5.8"/>
<circle cx="402.0" cy="725.0" r="5.8"/>
<circle cx="414.0" cy="713.0" r="5.8"/>
<circle cx="428.0" cy="707.0" r="5.8"/>
<circle cx="441.0" cy="691.0" r="5.8"/>
<circle cx="455.0" cy="674.5" r="5.8"/>
<circle cx="468.3" cy="664.3" r="5.8"/>
<circle cx="481.7" cy="650.1" r="5.8"/>
<circle cx="495.1" cy="631.2" r="5.8"/>
<circle cx="508.4" cy="615.5" r="5.8"/>
<circle cx="521.5" cy="596.6" r="5.8"/>
<circle cx="535.2" cy="582.5" r="5.8"/>
<circle cx="548.5" cy="574.6" r="5.8"/>
<circle cx="562.0" cy="561.5" r="5.8"/>
<circle cx="565.0" cy="560.0" r="5.8"/>
<circle cx="568.0" cy="559.0" r="5.8"/>
<circle cx="570.5" cy="558.4" r="5.8"/>
</g>
<polyline points="107.6,558.4 109.2,558.5 110.8,558.7 112.4,558.9 114.0,559.2 115.6,559.6 117.3,560.0 118.9,560.4 120.5,560.9 122.1,561.4 123.7,562.0 125.3,562.6 126.9,563.3 128.5,564.0 130.1,564.8 131.7,565.6 133.3,566.4 134.9,567.3 136.6,568.2 138.2,569.2 139.8,570.2 141.4,571.3 143.0,572.3 144.6,573.5 146.2,574.6 147.8,575.8 149.4,577.0 151.0,578.3 152.6,579.6 154.2,580.9 155.9,582.3 157.5,583.7 159.1,585.1 160.7,586.5 162.3,588.0 163.9,589.5 165.5,591.0 167.1,592.6 168.7,594.2 170.3,595.8 171.9,597.4 173.5,599.1 175.2,600.8 176.8,602.5 178.4,604.2 180.0,605.9 181.6,607.7 183.2,609.5 184.8,611.2 186.4,613.1 188.0,614.9 189.6,616.7 191.2,618.6 192.8,620.5 194.5,622.4 196.1,624.3 197.7,626.2 199.3,628.1 200.9,630.0 202.5,632.0 204.1,633.9 205.7,635.9 207.3,637.8 208.9,639.8 210.5,641.8 212.1,643.8 213.8,645.8 215.4,647.8 217.0,649.8 218.6,651.7 220.2,653.7 221.8,655.7 223.4,657.7 225.0,659.7 226.6,661.7 228.2,663.7 229.8,665.7 231.4,667.6 233.1,669.6 234.7,671.6 236.3,673.5 237.9,675.4 239.5,677.4 241.1,679.3 242.7,681.2 244.3,683.1 245.9,684.9 247.5,686.8 249.1,688.6 250.7,690.5 252.4,692.3 254.0,694.0 255.6,695.8 257.2,697.5 258.8,699.2 260.4,700.9 262.0,702.6 263.6,704.2 265.2,705.8 266.8,707.4 268.4,709.0 270.0,710.5 271.7,712.0 273.3,713.5 274.9,714.9 276.5,716.3 278.1,717.6 279.7,719.0 281.3,720.3 282.9,721.5 284.5,722.7 286.1,723.9 287.7,725.0 289.3,726.1 291.0,727.2 292.6,728.2 294.2,729.1 295.8,730.0 297.4,730.9 299.0,731.7 300.6,732.5 302.2,733.3 303.8,734.0 305.4,734.7 307.0,735.3 308.6,735.9 310.3,736.5 311.9,737.0 313.5,737.5 315.1,737.9 316.7,738.3 318.3,738.7 319.9,739.1 321.5,739.4 323.1,739.6 324.7,739.9 326.3,740.1 327.9,740.2 329.6,740.4 331.2,740.5 332.8,740.6 334.4,740.6 336.0,740.6 337.6,740.6 339.2,740.5 340.8,740.5 342.4,740.3 344.0,740.2 345.6,740.0 347.2,739.8 348.9,739.6 350.5,739.4 352.1,739.1 353.7,738.8 355.3,738.4 356.9,738.1 358.5,737.7 360.1,737.3 361.7,736.9 363.3,736.4 364.9,735.9 366.5,735.4 368.2,734.9 369.8,734.4 371.4,733.8 373.0,733.2 374.6,732.6 376.2,731.9 377.8,731.3 379.4,730.6 381.0,729.9 382.6,729.2 384.2,728.4 385.8,727.7 387.5,726.9 389.1,726.1 390.7,725.3 392.3,724.4 393.9,723.6 395.5,722.7 397.1,721.8 398.7,720.9 400.3,720.0 401.9,719.0 403.5,718.1 405.1,717.1 406.8,716.1 408.4,715.1 410.0,714.1 411.6,713.1 413.2,712.0 414.8,711.0 416.4,709.9 418.0,708.8 419.6,707.7 421.2,706.6 422.8,705.5 424.4,704.4 426.1,703.2 427.7,702.1 429.3,700.9 430.9,699.7 432.5,698.5 434.1,697.3 435.7,696.1 437.3,694.9 438.9,693.7 440.5,692.4 442.1,691.1 443.7,689.8 445.4,688.5 447.0,687.1 448.6,685.8 450.2,684.3 451.8,682.9 453.4,681.4 455.0,679.9 456.6,678.4 458.2,676.9 459.8,675.2 461.4,673.6 463.0,671.9 464.7,670.2 466.3,668.4 467.9,666.6 469.5,664.8 471.1,662.9 472.7,660.9 474.3,658.9 475.9,656.9 477.5,654.8 479.1,652.8 480.7,650.6 482.3,648.5 484.0,646.3 485.6,644.2 487.2,642.0 488.8,639.8 490.4,637.6 492.0,635.5 493.6,633.3 495.2,631.1 496.8,628.9 498.4,626.7 500.0,624.6 501.6,622.4 503.3,620.2 504.9,618.1 506.5,616.0 508.1,613.8 509.7,611.7 511.3,609.6 512.9,607.6 514.5,605.5 516.1,603.5 517.7,601.5 519.3,599.5 520.9,597.6 522.6,595.7 524.2,593.8 525.8,591.9 527.4,590.1 529.0,588.3 530.6,586.5 532.2,584.8 533.8,583.1 535.4,581.5 537.0,579.9 538.6,578.3 540.2,576.8 541.9,575.4 543.5,574.0 545.1,572.6 546.7,571.3 548.3,570.1 549.9,568.9 551.5,567.7 553.1,566.6 554.7,565.6 556.3,564.7 557.9,563.8 559.5,562.9 561.2,562.2 562.8,561.5 564.4,560.8 566.0,560.3 567.6,559.8 569.2,559.4 570.8,559.1 572.4,558.8 574.0,558.6 575.6,558.6 577.2,558.5 578.8,558.6 580.5,558.8 582.1,559.0 583.7,559.4 585.3,559.8 586.9,560.3 588.5,560.9" fill="none" stroke="#000" stroke-width="3.1" stroke-linejoin="round"/>
<line x1="108.6" y1="559.5" x2="587.5" y2="559.5" stroke="#FF0000" stroke-width="2" stroke-dasharray="2.06 2.06"/>
</g>
<text transform="translate(97.3,571.0) scale(1,1.06)" text-anchor="end" class="tk">0</text>
<text transform="translate(97.3,651.6) scale(1,1.06)" text-anchor="end" class="tk">-0.1</text>
<text transform="translate(97.3,732.8) scale(1,1.06)" text-anchor="end" class="tk">-0.2</text>
<text transform="translate(97.3,814.1) scale(1,1.06)" text-anchor="end" class="tk">-0.3</text>
<text transform="translate(108.1,842.6) scale(1,1.06)" text-anchor="middle" class="tk">0</text>
<text transform="translate(241.1,842.6) scale(1,1.06)" text-anchor="middle" class="tk">50</text>
<text transform="translate(374.2,842.6) scale(1,1.06)" text-anchor="middle" class="tk">100</text>
<text transform="translate(507.2,842.6) scale(1,1.06)" text-anchor="middle" class="tk">150</text>
<clipPath id="cs4"><rect x="719.6" y="11.5" width="479.0" height="260.3"/></clipPath>
<rect x="719.6" y="11.5" width="479.0" height="260.3" fill="none" stroke="#4d4d4d" stroke-width="1.4"/>
<line x1="719.6" y1="93.4" x2="724.2" y2="93.4" stroke="#4d4d4d" stroke-width="1.4"/>
<line x1="1198.6" y1="93.4" x2="1194.0" y2="93.4" stroke="#4d4d4d" stroke-width="1.4"/>
<line x1="719.6" y1="174.8" x2="724.2" y2="174.8" stroke="#4d4d4d" stroke-width="1.4"/>
<line x1="1198.6" y1="174.8" x2="1194.0" y2="174.8" stroke="#4d4d4d" stroke-width="1.4"/>
<line x1="719.6" y1="256.5" x2="724.2" y2="256.5" stroke="#4d4d4d" stroke-width="1.4"/>
<line x1="1198.6" y1="256.5" x2="1194.0" y2="256.5" stroke="#4d4d4d" stroke-width="1.4"/>
<line x1="852.7" y1="11.5" x2="852.7" y2="16.1" stroke="#4d4d4d" stroke-width="1.4"/>
<line x1="852.7" y1="271.8" x2="852.7" y2="267.2" stroke="#4d4d4d" stroke-width="1.4"/>
<line x1="985.7" y1="11.5" x2="985.7" y2="16.1" stroke="#4d4d4d" stroke-width="1.4"/>
<line x1="985.7" y1="271.8" x2="985.7" y2="267.2" stroke="#4d4d4d" stroke-width="1.4"/>
<line x1="1118.8" y1="11.5" x2="1118.8" y2="16.1" stroke="#4d4d4d" stroke-width="1.4"/>
<line x1="1118.8" y1="271.8" x2="1118.8" y2="267.2" stroke="#4d4d4d" stroke-width="1.4"/>
<g clip-path="url(#cs4)">
<polygon points="718.6,93.4 720.2,93.7 721.8,93.9 723.4,93.9 725.0,94.0 726.6,94.1 728.3,94.1 729.9,94.1 731.5,94.1 733.1,94.1 734.7,94.0 736.3,93.9 737.9,93.7 739.5,93.3 741.1,92.8 742.7,92.3 744.3,91.8 745.9,91.3 747.6,90.7 749.2,90.1 750.8,89.5 752.4,88.8 754.0,88.2 755.6,87.5 757.2,86.8 758.8,86.2 760.4,85.5 762.0,84.9 763.6,84.3 765.3,83.6 766.9,82.8 768.5,82.1 770.1,81.2 771.7,80.3 773.3,79.2 774.9,78.0 776.5,76.7 778.1,75.2 779.7,73.6 781.3,71.8 782.9,70.0 784.6,68.1 786.2,66.2 787.8,64.2 789.4,62.3 791.0,60.4 792.6,58.5 794.2,56.6 795.8,54.7 797.4,52.8 799.0,50.9 800.6,49.1 802.3,47.2 803.9,45.4 805.5,43.7 807.1,41.9 808.7,40.2 810.3,38.5 811.9,36.9 813.5,35.3 815.1,33.7 816.7,32.2 818.3,30.8 819.9,29.4 821.6,28.0 823.2,26.7 824.8,25.5 826.4,24.3 828.0,23.2 829.6,22.2 831.2,21.2 832.8,20.3 834.4,19.5 836.0,18.8 837.6,18.2 839.3,17.6 840.9,17.1 842.5,16.7 844.1,16.4 845.7,16.2 847.3,16.1 848.9,16.1 850.5,16.1 852.1,16.2 853.7,16.4 855.3,16.6 856.9,16.9 858.6,17.2 860.2,17.6 861.8,18.1 863.4,18.6 865.0,19.1 866.6,19.6 868.2,20.2 869.8,20.9 871.4,21.5 873.0,22.3 874.6,23.2 876.3,24.3 877.9,25.6 879.5,27.1 881.1,28.8 882.7,30.6 884.3,32.5 885.9,34.4 887.5,36.5 889.1,38.5 890.7,40.6 892.3,42.6 893.9,44.6 895.6,46.5 897.2,48.5 898.8,50.4 900.4,52.3 902.0,54.3 903.6,56.3 905.2,58.4 906.8,60.5 908.4,62.7 910.0,64.9 911.6,67.2 913.3,69.6 914.9,72.0 916.5,74.5 918.1,77.1 919.7,79.7 921.3,82.4 922.9,85.0 924.5,87.8 926.1,90.5 927.7,93.3 929.3,96.2 930.9,99.0 932.6,101.9 934.2,104.8 935.8,107.7 937.4,110.6 939.0,113.5 940.6,116.4 942.2,119.4 943.8,122.3 945.4,125.2 947.0,128.1 948.6,131.0 950.3,133.9 951.9,136.7 953.5,139.5 955.1,142.3 956.7,145.1 958.3,147.8 959.9,150.5 961.5,153.1 963.1,155.7 964.7,158.3 966.3,160.8 967.9,163.2 969.6,165.6 971.2,168.0 972.8,170.2 974.4,172.5 976.0,174.6 977.6,176.7 979.2,178.7 980.8,180.7 982.4,182.6 984.0,184.5 985.6,186.2 987.3,187.9 988.9,189.6 990.5,191.1 992.1,192.6 993.7,194.1 995.3,195.4 996.9,196.7 998.5,197.9 1000.1,199.0 1001.7,200.0 1003.3,201.0 1004.9,201.8 1006.6,202.6 1008.2,203.3 1009.8,203.9 1011.4,204.4 1013.0,204.9 1014.6,205.2 1016.2,205.5 1017.8,205.6 1019.4,205.7 1021.0,205.7 1022.6,205.6 1024.3,205.4 1025.9,205.1 1027.5,204.7 1029.1,204.2 1030.7,203.6 1032.3,203.0 1033.9,202.3 1035.5,201.5 1037.1,200.6 1038.7,199.6 1040.3,198.6 1041.9,197.4 1043.6,196.2 1045.2,195.0 1046.8,193.6 1048.4,192.2 1050.0,190.7 1051.6,189.2 1053.2,187.6 1054.8,185.9 1056.4,184.2 1058.0,182.3 1059.6,180.5 1061.3,178.5 1062.9,176.5 1064.5,174.5 1066.1,172.4 1067.7,170.2 1069.3,168.0 1070.9,165.7 1072.5,163.4 1074.1,161.0 1075.7,158.5 1077.3,156.0 1078.9,153.5 1080.6,150.9 1082.2,148.2 1083.8,145.5 1085.4,142.8 1087.0,140.0 1088.6,137.1 1090.2,134.3 1091.8,131.3 1093.4,128.4 1095.0,125.3 1096.6,122.3 1098.3,119.2 1099.9,116.1 1101.5,112.9 1103.1,109.7 1104.7,106.5 1106.3,103.3 1107.9,100.2 1109.5,97.2 1111.1,94.2 1112.7,91.4 1114.3,88.7 1115.9,86.2 1117.6,83.9 1119.2,81.8 1120.8,79.9 1122.4,78.3 1124.0,76.9 1125.6,75.7 1127.2,74.7 1128.8,73.9 1130.4,73.2 1132.0,72.7 1133.6,72.3 1135.3,72.0 1136.9,71.9 1138.5,71.8 1140.1,71.9 1141.7,72.0 1143.3,72.2 1144.9,72.5 1146.5,72.8 1148.1,73.2 1149.7,73.7 1151.3,74.2 1152.9,74.7 1154.6,75.3 1156.2,75.9 1157.8,76.5 1159.4,77.1 1161.0,77.7 1162.6,78.4 1164.2,79.1 1165.8,79.8 1167.4,80.5 1169.0,81.2 1170.6,81.9 1172.3,82.6 1173.9,83.3 1175.5,84.0 1177.1,84.8 1178.7,85.5 1180.3,86.1 1181.9,86.8 1183.5,87.5 1185.1,88.1 1186.7,88.7 1188.3,89.3 1189.9,89.9 1191.6,90.5 1193.2,91.0 1194.8,91.5 1196.4,91.9 1198.0,92.3 1199.6,92.7 1199.6,95.9 1198.0,101.8 1196.4,106.9 1194.8,111.2 1193.2,114.9 1191.6,117.9 1189.9,120.4 1188.3,122.3 1186.7,123.8 1185.1,124.8 1183.5,125.4 1181.9,125.8 1180.3,125.8 1178.7,125.7 1177.1,125.4 1175.5,124.8 1173.9,124.2 1172.3,123.5 1170.6,122.7 1169.0,121.8 1167.4,120.9 1165.8,120.1 1164.2,119.3 1162.6,118.6 1161.0,117.9 1159.4,117.5 1157.8,117.1 1156.2,116.9 1154.6,116.8 1152.9,116.8 1151.3,117.0 1149.7,117.2 1148.1,117.6 1146.5,118.0 1144.9,118.5 1143.3,119.2 1141.7,119.8 1140.1,120.6 1138.5,121.4 1136.9,122.3 1135.3,123.3 1133.6,124.3 1132.0,125.3 1130.4,126.4 1128.8,127.5 1127.2,128.6 1125.6,129.8 1124.0,130.9 1122.4,132.1 1120.8,133.3 1119.2,134.5 1117.6,135.8 1115.9,137.1 1114.3,138.5 1112.7,139.9 1111.1,141.3 1109.5,142.8 1107.9,144.4 1106.3,146.0 1104.7,147.7 1103.1,149.5 1101.5,151.4 1099.9,153.4 1098.3,155.4 1096.6,157.6 1095.0,159.8 1093.4,162.1 1091.8,164.5 1090.2,167.0 1088.6,169.6 1087.0,172.1 1085.4,174.8 1083.8,177.4 1082.2,180.1 1080.6,182.8 1078.9,185.4 1077.3,188.1 1075.7,190.8 1074.1,193.4 1072.5,196.0 1070.9,198.6 1069.3,201.1 1067.7,203.5 1066.1,205.9 1064.5,208.1 1062.9,210.3 1061.3,212.4 1059.6,214.5 1058.0,216.4 1056.4,218.3 1054.8,220.0 1053.2,221.7 1051.6,223.3 1050.0,224.9 1048.4,226.3 1046.8,227.7 1045.2,229.0 1043.6,230.2 1041.9,231.3 1040.3,232.4 1038.7,233.4 1037.1,234.2 1035.5,235.1 1033.9,235.8 1032.3,236.5 1030.7,237.1 1029.1,237.6 1027.5,238.0 1025.9,238.4 1024.3,238.6 1022.6,238.9 1021.0,239.0 1019.4,239.0 1017.8,239.0 1016.2,238.9 1014.6,238.8 1013.0,238.5 1011.4,238.2 1009.8,237.8 1008.2,237.3 1006.6,236.8 1004.9,236.2 1003.3,235.5 1001.7,234.7 1000.1,233.9 998.5,233.0 996.9,232.0 995.3,231.0 993.7,229.9 992.1,228.7 990.5,227.4 988.9,226.1 987.3,224.6 985.6,223.2 984.0,221.6 982.4,220.0 980.8,218.3 979.2,216.5 977.6,214.7 976.0,212.8 974.4,210.8 972.8,208.8 971.2,206.6 969.6,204.5 967.9,202.2 966.3,199.9 964.7,197.5 963.1,195.1 961.5,192.6 959.9,190.1 958.3,187.6 956.7,185.0 955.1,182.3 953.5,179.7 951.9,177.0 950.3,174.3 948.6,171.6 947.0,168.9 945.4,166.1 943.8,163.4 942.2,160.7 940.6,157.9 939.0,155.2 937.4,152.5 935.8,149.7 934.2,147.0 932.6,144.3 930.9,141.6 929.3,139.0 927.7,136.3 926.1,133.6 924.5,131.0 922.9,128.3 921.3,125.6 919.7,123.0 918.1,120.4 916.5,117.7 914.9,115.1 913.3,112.5 911.6,109.9 910.0,107.2 908.4,104.6 906.8,102.0 905.2,99.4 903.6,96.8 902.0,94.3 900.4,91.7 898.8,89.2 897.2,86.8 895.6,84.3 893.9,82.0 892.3,79.7 890.7,77.5 889.1,75.3 887.5,73.3 885.9,71.3 884.3,69.4 882.7,67.6 881.1,66.0 879.5,64.5 877.9,63.1 876.3,61.8 874.6,60.7 873.0,59.7 871.4,58.8 869.8,58.1 868.2,57.4 866.6,56.8 865.0,56.3 863.4,55.9 861.8,55.5 860.2,55.1 858.6,54.8 856.9,54.6 855.3,54.4 853.7,54.3 852.1,54.2 850.5,54.3 848.9,54.5 847.3,54.8 845.7,55.1 844.1,55.6 842.5,56.2 840.9,56.9 839.3,57.6 837.6,58.4 836.0,59.3 834.4,60.2 832.8,61.2 831.2,62.2 829.6,63.2 828.0,64.3 826.4,65.3 824.8,66.4 823.2,67.5 821.6,68.6 819.9,69.6 818.3,70.6 816.7,71.6 815.1,72.6 813.5,73.6 811.9,74.5 810.3,75.4 808.7,76.3 807.1,77.2 805.5,78.1 803.9,78.9 802.3,79.7 800.6,80.5 799.0,81.3 797.4,82.0 795.8,82.7 794.2,83.4 792.6,84.1 791.0,84.7 789.4,85.4 787.8,86.0 786.2,86.5 784.6,87.1 782.9,87.6 781.3,88.1 779.7,88.6 778.1,89.1 776.5,89.5 774.9,90.0 773.3,90.4 771.7,90.8 770.1,91.1 768.5,91.5 766.9,91.8 765.3,92.1 763.6,92.4 762.0,92.6 760.4,92.9 758.8,93.1 757.2,93.3 755.6,93.5 754.0,93.7 752.4,93.9 750.8,94.0 749.2,94.1 747.6,94.2 745.9,94.3 744.3,94.4 742.7,94.5 741.1,94.5 739.5,94.6 737.9,94.6 736.3,94.6 734.7,94.6 733.1,94.6 731.5,94.6 729.9,94.5 728.3,94.5 726.6,94.4 725.0,94.4 723.4,94.3 721.8,94.2 720.2,94.1 718.6,94.0" fill="#EDB120" stroke="#EDB120" stroke-width="0.8"/>
<g fill="none" stroke="#3c3c3c" stroke-width="1.1">
<circle cx="745.7" cy="107.2" r="5.8"/>
<circle cx="759.0" cy="99.4" r="5.8"/>
<circle cx="772.4" cy="92.3" r="5.8"/>
<circle cx="785.8" cy="80.2" r="5.8"/>
<circle cx="799.2" cy="65.6" r="5.8"/>
<circle cx="811.7" cy="53.8" r="5.8"/>
<circle cx="825.1" cy="45.9" r="5.8"/>
<circle cx="838.5" cy="37.7" r="5.8"/>
<circle cx="851.9" cy="39.3" r="5.8"/>
<circle cx="865.5" cy="37.5" r="5.8"/>
<circle cx="878.9" cy="44.1" r="5.8"/>
<circle cx="892.2" cy="59.8" r="5.8"/>
<circle cx="905.6" cy="81.9" r="5.8"/>
<circle cx="919.0" cy="99.2" r="5.8"/>
<circle cx="932.4" cy="118.8" r="5.8"/>
<circle cx="945.9" cy="143.3" r="5.8"/>
<circle cx="958.9" cy="168.5" r="5.8"/>
<circle cx="972.2" cy="190.6" r="5.8"/>
<circle cx="985.6" cy="205.5" r="5.8"/>
<circle cx="999.0" cy="218.1" r="5.8"/>
<circle cx="1012.4" cy="220.5" r="5.8"/>
<circle cx="1025.7" cy="227.5" r="5.8"/>
<circle cx="1039.1" cy="224.4" r="5.8"/>
<circle cx="1052.5" cy="204.7" r="5.8"/>
<circle cx="1065.8" cy="185.1" r="5.8"/>
<circle cx="1079.2" cy="165.4" r="5.8"/>
<circle cx="1092.6" cy="145.7" r="5.8"/>
<circle cx="1106.3" cy="126.3" r="5.8"/>
<circle cx="1119.4" cy="109.7" r="5.8"/>
<circle cx="1133.1" cy="102.6" r="5.8"/>
<circle cx="1146.2" cy="100.6" r="5.8"/>
<circle cx="1159.9" cy="99.5" r="5.8"/>
<circle cx="1173.0" cy="102.6" r="5.8"/>
<circle cx="1177.0" cy="105.0" r="5.8"/>
<circle cx="1178.6" cy="108.1" r="5.8"/>
</g>
<polyline points="718.6,93.6 720.2,93.7 721.8,93.9 723.4,93.9 725.0,94.0 726.6,94.1 728.3,94.1 729.9,94.1 731.5,94.1 733.1,94.1 734.7,94.0 736.3,93.9 737.9,93.8 739.5,93.7 741.1,93.5 742.7,93.3 744.3,93.1 745.9,92.9 747.6,92.6 749.2,92.3 750.8,92.0 752.4,91.6 754.0,91.3 755.6,90.8 757.2,90.4 758.8,89.9 760.4,89.4 762.0,88.9 763.6,88.3 765.3,87.7 766.9,87.0 768.5,86.3 770.1,85.6 771.7,84.9 773.3,84.1 774.9,83.2 776.5,82.4 778.1,81.5 779.7,80.6 781.3,79.6 782.9,78.6 784.6,77.6 786.2,76.5 787.8,75.5 789.4,74.4 791.0,73.2 792.6,72.1 794.2,70.9 795.8,69.7 797.4,68.5 799.0,67.2 800.6,66.0 802.3,64.7 803.9,63.4 805.5,62.0 807.1,60.7 808.7,59.3 810.3,58.0 811.9,56.6 813.5,55.2 815.1,53.8 816.7,52.5 818.3,51.1 819.9,49.8 821.6,48.5 823.2,47.3 824.8,46.1 826.4,44.9 828.0,43.8 829.6,42.8 831.2,41.8 832.8,40.9 834.4,40.0 836.0,39.2 837.6,38.5 839.3,37.9 840.9,37.3 842.5,36.8 844.1,36.4 845.7,36.0 847.3,35.7 848.9,35.5 850.5,35.3 852.1,35.2 853.7,35.2 855.3,35.3 856.9,35.4 858.6,35.6 860.2,35.9 861.8,36.3 863.4,36.7 865.0,37.2 866.6,37.8 868.2,38.5 869.8,39.2 871.4,40.1 873.0,41.0 874.6,42.0 876.3,43.0 877.9,44.2 879.5,45.4 881.1,46.7 882.7,48.1 884.3,49.6 885.9,51.1 887.5,52.8 889.1,54.5 890.7,56.3 892.3,58.2 893.9,60.2 895.6,62.2 897.2,64.4 898.8,66.6 900.4,68.9 902.0,71.2 903.6,73.6 905.2,76.1 906.8,78.6 908.4,81.1 910.0,83.7 911.6,86.4 913.3,89.0 914.9,91.7 916.5,94.5 918.1,97.2 919.7,100.0 921.3,102.8 922.9,105.6 924.5,108.4 926.1,111.2 927.7,114.0 929.3,116.8 930.9,119.7 932.6,122.5 934.2,125.3 935.8,128.1 937.4,130.9 939.0,133.7 940.6,136.5 942.2,139.3 943.8,142.1 945.4,144.8 947.0,147.6 948.6,150.3 950.3,153.0 951.9,155.7 953.5,158.4 955.1,161.1 956.7,163.7 958.3,166.3 959.9,168.9 961.5,171.5 963.1,174.0 964.7,176.5 966.3,178.9 967.9,181.3 969.6,183.7 971.2,186.1 972.8,188.3 974.4,190.6 976.0,192.8 977.6,194.9 979.2,197.0 980.8,199.1 982.4,201.0 984.0,202.9 985.6,204.8 987.3,206.6 988.9,208.3 990.5,210.0 992.1,211.5 993.7,213.1 995.3,214.5 996.9,215.8 998.5,217.1 1000.1,218.3 1001.7,219.4 1003.3,220.4 1004.9,221.4 1006.6,222.2 1008.2,223.0 1009.8,223.6 1011.4,224.2 1013.0,224.7 1014.6,225.0 1016.2,225.3 1017.8,225.5 1019.4,225.6 1021.0,225.6 1022.6,225.6 1024.3,225.4 1025.9,225.1 1027.5,224.7 1029.1,224.2 1030.7,223.7 1032.3,223.0 1033.9,222.2 1035.5,221.4 1037.1,220.4 1038.7,219.3 1040.3,218.2 1041.9,216.9 1043.6,215.6 1045.2,214.2 1046.8,212.7 1048.4,211.1 1050.0,209.4 1051.6,207.7 1053.2,205.9 1054.8,204.0 1056.4,202.0 1058.0,200.0 1059.6,197.9 1061.3,195.7 1062.9,193.5 1064.5,191.3 1066.1,188.9 1067.7,186.6 1069.3,184.1 1070.9,181.7 1072.5,179.2 1074.1,176.6 1075.7,174.0 1077.3,171.4 1078.9,168.7 1080.6,166.0 1082.2,163.3 1083.8,160.5 1085.4,157.7 1087.0,154.9 1088.6,152.1 1090.2,149.4 1091.8,146.6 1093.4,143.9 1095.0,141.1 1096.6,138.5 1098.3,135.9 1099.9,133.3 1101.5,130.8 1103.1,128.4 1104.7,126.0 1106.3,123.8 1107.9,121.6 1109.5,119.5 1111.1,117.5 1112.7,115.6 1114.3,113.9 1115.9,112.2 1117.6,110.6 1119.2,109.1 1120.8,107.7 1122.4,106.4 1124.0,105.2 1125.6,104.1 1127.2,103.1 1128.8,102.2 1130.4,101.4 1132.0,100.7 1133.6,100.1 1135.3,99.6 1136.9,99.2 1138.5,98.9 1140.1,98.7 1141.7,98.6 1143.3,98.6 1144.9,98.7 1146.5,98.8 1148.1,99.0 1149.7,99.2 1151.3,99.5 1152.9,99.9 1154.6,100.2 1156.2,100.6 1157.8,101.1 1159.4,101.5 1161.0,102.0 1162.6,102.4 1164.2,102.9 1165.8,103.3 1167.4,103.7 1169.0,104.1 1170.6,104.4 1172.3,104.7 1173.9,104.9 1175.5,105.0 1177.1,105.1 1178.7,105.1 1180.3,104.9 1181.9,104.7 1183.5,104.4 1185.1,103.9 1186.7,103.3 1188.3,102.6 1189.9,101.7 1191.6,100.6 1193.2,99.4 1194.8,98.1 1196.4,96.5 1198.0,94.8 1199.6,92.8" fill="none" stroke="#000" stroke-width="3.1" stroke-linejoin="round"/>
<line x1="719.6" y1="93.4" x2="1198.6" y2="93.4" stroke="#FF0000" stroke-width="2" stroke-dasharray="2.06 2.06"/>
</g>
<text transform="translate(708.3,23.1) scale(1,1.06)" text-anchor="end" class="tk">0.05</text>
<text transform="translate(708.3,105.0) scale(1,1.06)" text-anchor="end" class="tk">0</text>
<text transform="translate(708.3,186.4) scale(1,1.06)" text-anchor="end" class="tk">-0.05</text>
<text transform="translate(708.3,268.1) scale(1,1.06)" text-anchor="end" class="tk">-0.1</text>
<clipPath id="cs5"><rect x="719.6" y="282" width="479.0" height="250.8"/></clipPath>
<rect x="719.6" y="282" width="479.0" height="250.8" fill="none" stroke="#4d4d4d" stroke-width="1.4"/>
<line x1="719.6" y1="297.1" x2="724.2" y2="297.1" stroke="#4d4d4d" stroke-width="1.4"/>
<line x1="1198.6" y1="297.1" x2="1194.0" y2="297.1" stroke="#4d4d4d" stroke-width="1.4"/>
<line x1="719.6" y1="370.9" x2="724.2" y2="370.9" stroke="#4d4d4d" stroke-width="1.4"/>
<line x1="1198.6" y1="370.9" x2="1194.0" y2="370.9" stroke="#4d4d4d" stroke-width="1.4"/>
<line x1="719.6" y1="444.9" x2="724.2" y2="444.9" stroke="#4d4d4d" stroke-width="1.4"/>
<line x1="1198.6" y1="444.9" x2="1194.0" y2="444.9" stroke="#4d4d4d" stroke-width="1.4"/>
<line x1="719.6" y1="518.4" x2="724.2" y2="518.4" stroke="#4d4d4d" stroke-width="1.4"/>
<line x1="1198.6" y1="518.4" x2="1194.0" y2="518.4" stroke="#4d4d4d" stroke-width="1.4"/>
<line x1="852.7" y1="282" x2="852.7" y2="286.6" stroke="#4d4d4d" stroke-width="1.4"/>
<line x1="852.7" y1="532.8" x2="852.7" y2="528.1999999999999" stroke="#4d4d4d" stroke-width="1.4"/>
<line x1="985.7" y1="282" x2="985.7" y2="286.6" stroke="#4d4d4d" stroke-width="1.4"/>
<line x1="985.7" y1="532.8" x2="985.7" y2="528.1999999999999" stroke="#4d4d4d" stroke-width="1.4"/>
<line x1="1118.8" y1="282" x2="1118.8" y2="286.6" stroke="#4d4d4d" stroke-width="1.4"/>
<line x1="1118.8" y1="532.8" x2="1118.8" y2="528.1999999999999" stroke="#4d4d4d" stroke-width="1.4"/>
<g clip-path="url(#cs5)">
<polygon points="718.6,305.2 720.2,305.1 721.8,305.0 723.4,305.0 725.0,304.9 726.6,304.9 728.3,304.9 729.9,304.8 731.5,304.8 733.1,304.8 734.7,304.9 736.3,304.9 737.9,304.9 739.5,305.0 741.1,305.0 742.7,305.1 744.3,305.1 745.9,305.2 747.6,305.3 749.2,305.4 750.8,305.5 752.4,305.6 754.0,305.8 755.6,305.9 757.2,306.0 758.8,306.2 760.4,306.3 762.0,306.5 763.6,306.7 765.3,306.9 766.9,307.1 768.5,307.3 770.1,307.5 771.7,307.7 773.3,307.9 774.9,308.2 776.5,308.4 778.1,308.7 779.7,308.9 781.3,309.2 782.9,309.5 784.6,309.8 786.2,310.0 787.8,310.3 789.4,310.6 791.0,311.0 792.6,311.3 794.2,311.6 795.8,311.9 797.4,312.3 799.0,312.6 800.6,313.0 802.3,313.3 803.9,313.7 805.5,314.1 807.1,314.5 808.7,314.8 810.3,315.2 811.9,315.6 813.5,316.0 815.1,316.4 816.7,316.8 818.3,317.3 819.9,317.7 821.6,318.1 823.2,318.5 824.8,319.0 826.4,319.4 828.0,319.9 829.6,320.3 831.2,320.8 832.8,321.3 834.4,321.7 836.0,322.2 837.6,322.7 839.3,323.2 840.9,323.7 842.5,324.1 844.1,324.6 845.7,325.1 847.3,325.6 848.9,326.1 850.5,326.6 852.1,327.1 853.7,327.6 855.3,328.1 856.9,328.6 858.6,329.2 860.2,329.7 861.8,330.2 863.4,330.7 865.0,331.3 866.6,331.8 868.2,332.4 869.8,333.0 871.4,333.5 873.0,334.1 874.6,334.7 876.3,335.3 877.9,335.9 879.5,336.6 881.1,337.2 882.7,337.8 884.3,338.4 885.9,339.1 887.5,339.7 889.1,340.4 890.7,341.0 892.3,341.7 893.9,342.4 895.6,343.1 897.2,343.7 898.8,344.4 900.4,345.1 902.0,345.8 903.6,346.5 905.2,347.2 906.8,347.9 908.4,348.6 910.0,349.4 911.6,350.1 913.3,350.8 914.9,351.5 916.5,352.2 918.1,353.0 919.7,353.7 921.3,354.4 922.9,355.2 924.5,355.9 926.1,356.6 927.7,357.4 929.3,358.1 930.9,358.9 932.6,359.7 934.2,360.4 935.8,361.2 937.4,362.0 939.0,362.7 940.6,363.5 942.2,364.3 943.8,365.1 945.4,365.8 947.0,366.6 948.6,367.4 950.3,368.2 951.9,368.9 953.5,369.7 955.1,370.5 956.7,371.3 958.3,372.1 959.9,372.9 961.5,373.8 963.1,374.6 964.7,375.5 966.3,376.4 967.9,377.3 969.6,378.3 971.2,379.2 972.8,380.2 974.4,381.2 976.0,382.2 977.6,383.2 979.2,384.2 980.8,385.3 982.4,386.3 984.0,387.3 985.6,388.4 987.3,389.5 988.9,390.5 990.5,391.6 992.1,392.7 993.7,393.8 995.3,394.9 996.9,396.0 998.5,397.1 1000.1,398.2 1001.7,399.3 1003.3,400.4 1004.9,401.6 1006.6,402.7 1008.2,403.8 1009.8,404.8 1011.4,405.9 1013.0,407.0 1014.6,408.1 1016.2,409.2 1017.8,410.3 1019.4,411.4 1021.0,412.5 1022.6,413.6 1024.3,414.7 1025.9,415.8 1027.5,417.0 1029.1,418.1 1030.7,419.3 1032.3,420.5 1033.9,421.7 1035.5,422.9 1037.1,424.1 1038.7,425.4 1040.3,426.6 1041.9,427.9 1043.6,429.1 1045.2,430.4 1046.8,431.7 1048.4,433.0 1050.0,434.2 1051.6,435.5 1053.2,436.8 1054.8,438.1 1056.4,439.4 1058.0,440.7 1059.6,442.0 1061.3,443.3 1062.9,444.6 1064.5,445.9 1066.1,447.3 1067.7,448.6 1069.3,449.9 1070.9,451.2 1072.5,452.5 1074.1,453.9 1075.7,455.2 1077.3,456.5 1078.9,457.8 1080.6,459.0 1082.2,460.3 1083.8,461.6 1085.4,462.8 1087.0,464.0 1088.6,465.2 1090.2,466.4 1091.8,467.6 1093.4,468.7 1095.0,469.8 1096.6,470.9 1098.3,472.0 1099.9,473.0 1101.5,474.0 1103.1,475.0 1104.7,475.9 1106.3,476.8 1107.9,477.6 1109.5,478.3 1111.1,479.0 1112.7,479.6 1114.3,480.2 1115.9,480.7 1117.6,481.2 1119.2,481.7 1120.8,482.1 1122.4,482.5 1124.0,482.9 1125.6,483.2 1127.2,483.5 1128.8,483.7 1130.4,483.9 1132.0,484.0 1133.6,484.2 1135.3,484.2 1136.9,484.2 1138.5,484.2 1140.1,484.2 1141.7,484.1 1143.3,484.0 1144.9,483.8 1146.5,483.5 1148.1,483.3 1149.7,483.0 1151.3,482.7 1152.9,482.4 1154.6,482.1 1156.2,481.7 1157.8,481.4 1159.4,481.1 1161.0,480.7 1162.6,480.4 1164.2,480.0 1165.8,479.6 1167.4,479.3 1169.0,478.9 1170.6,478.5 1172.3,478.0 1173.9,477.7 1175.5,477.3 1177.1,477.0 1178.7,476.7 1180.3,476.4 1181.9,476.1 1183.5,475.8 1185.1,475.5 1186.7,475.2 1188.3,475.1 1189.9,474.9 1191.6,474.7 1193.2,474.6 1194.8,474.4 1196.4,474.2 1198.0,474.0 1199.6,473.8 1199.6,525.4 1198.0,525.6 1196.4,525.7 1194.8,525.8 1193.2,525.9 1191.6,525.9 1189.9,526.0 1188.3,526.0 1186.7,525.9 1185.1,525.9 1183.5,525.7 1181.9,525.6 1180.3,525.4 1178.7,525.2 1177.1,524.9 1175.5,524.7 1173.9,524.4 1172.3,524.1 1170.6,523.8 1169.0,523.4 1167.4,523.0 1165.8,522.6 1164.2,522.2 1162.6,521.8 1161.0,521.4 1159.4,520.9 1157.8,520.5 1156.2,520.0 1154.6,519.4 1152.9,518.9 1151.3,518.4 1149.7,517.8 1148.1,517.2 1146.5,516.6 1144.9,516.0 1143.3,515.3 1141.7,514.7 1140.1,514.0 1138.5,513.3 1136.9,512.7 1135.3,511.9 1133.6,511.2 1132.0,510.5 1130.4,509.7 1128.8,509.0 1127.2,508.2 1125.6,507.4 1124.0,506.6 1122.4,505.7 1120.8,504.9 1119.2,504.1 1117.6,503.4 1115.9,502.6 1114.3,501.9 1112.7,501.1 1111.1,500.3 1109.5,499.5 1107.9,498.6 1106.3,497.7 1104.7,496.8 1103.1,495.9 1101.5,494.9 1099.9,493.9 1098.3,492.9 1096.6,491.8 1095.0,490.7 1093.4,489.6 1091.8,488.5 1090.2,487.3 1088.6,486.1 1087.0,484.9 1085.4,483.7 1083.8,482.4 1082.2,481.1 1080.6,479.7 1078.9,478.4 1077.3,477.0 1075.7,475.6 1074.1,474.2 1072.5,472.8 1070.9,471.4 1069.3,470.0 1067.7,468.6 1066.1,467.2 1064.5,465.8 1062.9,464.4 1061.3,463.1 1059.6,461.7 1058.0,460.4 1056.4,459.2 1054.8,457.9 1053.2,456.8 1051.6,455.7 1050.0,454.5 1048.4,453.5 1046.8,452.4 1045.2,451.3 1043.6,450.2 1041.9,449.1 1040.3,448.0 1038.7,446.8 1037.1,445.7 1035.5,444.4 1033.9,443.2 1032.3,441.9 1030.7,440.6 1029.1,439.4 1027.5,438.1 1025.9,436.9 1024.3,435.6 1022.6,434.4 1021.0,433.1 1019.4,431.9 1017.8,430.7 1016.2,429.5 1014.6,428.2 1013.0,427.0 1011.4,425.8 1009.8,424.6 1008.2,423.5 1006.6,422.3 1004.9,421.1 1003.3,420.0 1001.7,418.8 1000.1,417.6 998.5,416.5 996.9,415.3 995.3,414.2 993.7,413.1 992.1,411.9 990.5,410.8 988.9,409.7 987.3,408.5 985.6,407.4 984.0,406.3 982.4,405.2 980.8,404.1 979.2,403.0 977.6,401.9 976.0,400.8 974.4,399.7 972.8,398.7 971.2,397.6 969.6,396.5 967.9,395.5 966.3,394.4 964.7,393.4 963.1,392.3 961.5,391.3 959.9,390.3 958.3,389.2 956.7,388.2 955.1,387.2 953.5,386.2 951.9,385.1 950.3,384.1 948.6,383.1 947.0,382.1 945.4,381.1 943.8,380.1 942.2,379.1 940.6,378.1 939.0,377.1 937.4,376.1 935.8,375.0 934.2,373.9 932.6,372.8 930.9,371.7 929.3,370.6 927.7,369.6 926.1,368.5 924.5,367.4 922.9,366.3 921.3,365.3 919.7,364.3 918.1,363.3 916.5,362.4 914.9,361.5 913.3,360.6 911.6,359.8 910.0,358.9 908.4,358.1 906.8,357.3 905.2,356.5 903.6,355.7 902.0,354.9 900.4,354.1 898.8,353.3 897.2,352.5 895.6,351.8 893.9,351.0 892.3,350.3 890.7,349.5 889.1,348.8 887.5,348.0 885.9,347.3 884.3,346.5 882.7,345.8 881.1,345.1 879.5,344.4 877.9,343.6 876.3,342.9 874.6,342.2 873.0,341.5 871.4,340.8 869.8,340.0 868.2,339.3 866.6,338.6 865.0,337.9 863.4,337.2 861.8,336.4 860.2,335.7 858.6,335.0 856.9,334.3 855.3,333.6 853.7,332.9 852.1,332.2 850.5,331.6 848.9,330.9 847.3,330.2 845.7,329.6 844.1,328.9 842.5,328.3 840.9,327.6 839.3,327.0 837.6,326.4 836.0,325.8 834.4,325.2 832.8,324.6 831.2,324.0 829.6,323.5 828.0,322.9 826.4,322.4 824.8,321.8 823.2,321.3 821.6,320.7 819.9,320.2 818.3,319.7 816.7,319.2 815.1,318.7 813.5,318.2 811.9,317.7 810.3,317.2 808.7,316.8 807.1,316.3 805.5,315.9 803.9,315.4 802.3,315.0 800.6,314.6 799.0,314.2 797.4,313.8 795.8,313.4 794.2,313.0 792.6,312.6 791.0,312.2 789.4,311.9 787.8,311.5 786.2,311.2 784.6,310.9 782.9,310.5 781.3,310.2 779.7,309.9 778.1,309.6 776.5,309.3 774.9,309.1 773.3,308.8 771.7,308.5 770.1,308.3 768.5,308.1 766.9,307.8 765.3,307.6 763.6,307.4 762.0,307.2 760.4,307.0 758.8,306.8 757.2,306.7 755.6,306.5 754.0,306.3 752.4,306.2 750.8,306.1 749.2,306.0 747.6,305.8 745.9,305.7 744.3,305.6 742.7,305.6 741.1,305.5 739.5,305.4 737.9,305.4 736.3,305.3 734.7,305.3 733.1,305.3 731.5,305.3 729.9,305.3 728.3,305.3 726.6,305.3 725.0,305.3 723.4,305.4 721.8,305.4 720.2,305.5 718.6,305.6" fill="#EDB120" stroke="#EDB120" stroke-width="0.8"/>
<g fill="none" stroke="#3c3c3c" stroke-width="1.1">
<circle cx="745.4" cy="306.4" r="5.8"/>
<circle cx="758.6" cy="307.4" r="5.8"/>
<circle cx="772.0" cy="308.4" r="5.8"/>
<circle cx="785.4" cy="310.4" r="5.8"/>
<circle cx="799.0" cy="312.4" r="5.8"/>
<circle cx="812.4" cy="315.4" r="5.8"/>
<circle cx="825.6" cy="318.0" r="5.8"/>
<circle cx="839.0" cy="321.0" r="5.8"/>
<circle cx="852.4" cy="326.0" r="5.8"/>
<circle cx="865.6" cy="334.0" r="5.8"/>
<circle cx="879.0" cy="340.0" r="5.8"/>
<circle cx="892.4" cy="347.0" r="5.8"/>
<circle cx="905.6" cy="353.0" r="5.8"/>
<circle cx="919.0" cy="360.0" r="5.8"/>
<circle cx="932.4" cy="367.0" r="5.8"/>
<circle cx="946.3" cy="373.4" r="5.8"/>
<circle cx="958.9" cy="382.0" r="5.8"/>
<circle cx="972.2" cy="390.7" r="5.8"/>
<circle cx="985.6" cy="398.5" r="5.8"/>
<circle cx="999.0" cy="408.0" r="5.8"/>
<circle cx="1012.4" cy="415.1" r="5.8"/>
<circle cx="1025.7" cy="427.6" r="5.8"/>
<circle cx="1039.1" cy="437.1" r="5.8"/>
<circle cx="1052.5" cy="448.1" r="5.8"/>
<circle cx="1065.8" cy="458.3" r="5.8"/>
<circle cx="1079.2" cy="471.5" r="5.8"/>
<circle cx="1092.7" cy="480.8" r="5.8"/>
<circle cx="1106.1" cy="491.3" r="5.8"/>
<circle cx="1119.5" cy="497.2" r="5.8"/>
<circle cx="1132.9" cy="503.6" r="5.8"/>
<circle cx="1146.3" cy="504.2" r="5.8"/>
<circle cx="1159.8" cy="506.5" r="5.8"/>
<circle cx="1174.0" cy="508.0" r="5.8"/>
<circle cx="1176.5" cy="508.5" r="5.8"/>
<circle cx="1179.0" cy="511.0" r="5.8"/>
<circle cx="1181.0" cy="512.0" r="5.8"/>
</g>
<polyline points="718.6,305.4 720.2,305.3 721.8,305.2 723.4,305.2 725.0,305.1 726.6,305.1 728.3,305.1 729.9,305.1 731.5,305.1 733.1,305.1 734.7,305.1 736.3,305.1 737.9,305.1 739.5,305.2 741.1,305.2 742.7,305.3 744.3,305.4 745.9,305.5 747.6,305.6 749.2,305.7 750.8,305.8 752.4,305.9 754.0,306.0 755.6,306.2 757.2,306.3 758.8,306.5 760.4,306.7 762.0,306.8 763.6,307.0 765.3,307.2 766.9,307.4 768.5,307.6 770.1,307.9 771.7,308.1 773.3,308.3 774.9,308.6 776.5,308.8 778.1,309.1 779.7,309.4 781.3,309.7 782.9,310.0 784.6,310.2 786.2,310.6 787.8,310.9 789.4,311.2 791.0,311.5 792.6,311.9 794.2,312.2 795.8,312.6 797.4,312.9 799.0,313.3 800.6,313.7 802.3,314.0 803.9,314.4 805.5,314.8 807.1,315.2 808.7,315.7 810.3,316.1 811.9,316.5 813.5,316.9 815.1,317.4 816.7,317.8 818.3,318.3 819.9,318.7 821.6,319.2 823.2,319.7 824.8,320.2 826.4,320.7 828.0,321.2 829.6,321.7 831.2,322.2 832.8,322.7 834.4,323.2 836.0,323.7 837.6,324.3 839.3,324.8 840.9,325.4 842.5,325.9 844.1,326.5 845.7,327.1 847.3,327.6 848.9,328.2 850.5,328.8 852.1,329.4 853.7,330.0 855.3,330.6 856.9,331.2 858.6,331.8 860.2,332.4 861.8,333.0 863.4,333.7 865.0,334.3 866.6,334.9 868.2,335.6 869.8,336.2 871.4,336.9 873.0,337.5 874.6,338.2 876.3,338.9 877.9,339.6 879.5,340.2 881.1,340.9 882.7,341.6 884.3,342.3 885.9,343.0 887.5,343.7 889.1,344.4 890.7,345.1 892.3,345.9 893.9,346.6 895.6,347.3 897.2,348.0 898.8,348.8 900.4,349.5 902.0,350.3 903.6,351.0 905.2,351.8 906.8,352.6 908.4,353.4 910.0,354.1 911.6,354.9 913.3,355.7 914.9,356.5 916.5,357.3 918.1,358.1 919.7,358.9 921.3,359.8 922.9,360.6 924.5,361.4 926.1,362.2 927.7,363.1 929.3,363.9 930.9,364.8 932.6,365.7 934.2,366.5 935.8,367.4 937.4,368.3 939.0,369.2 940.6,370.1 942.2,370.9 943.8,371.9 945.4,372.8 947.0,373.7 948.6,374.6 950.3,375.5 951.9,376.5 953.5,377.4 955.1,378.4 956.7,379.3 958.3,380.3 959.9,381.2 961.5,382.2 963.1,383.2 964.7,384.2 966.3,385.2 967.9,386.2 969.6,387.2 971.2,388.2 972.8,389.2 974.4,390.3 976.0,391.3 977.6,392.3 979.2,393.4 980.8,394.4 982.4,395.5 984.0,396.6 985.6,397.6 987.3,398.7 988.9,399.8 990.5,400.9 992.1,402.0 993.7,403.1 995.3,404.2 996.9,405.4 998.5,406.5 1000.1,407.7 1001.7,408.8 1003.3,410.0 1004.9,411.1 1006.6,412.3 1008.2,413.5 1009.8,414.6 1011.4,415.8 1013.0,417.0 1014.6,418.2 1016.2,419.5 1017.8,420.7 1019.4,421.9 1021.0,423.1 1022.6,424.4 1024.3,425.6 1025.9,426.9 1027.5,428.1 1029.1,429.4 1030.7,430.6 1032.3,431.9 1033.9,433.2 1035.5,434.5 1037.1,435.7 1038.7,437.0 1040.3,438.3 1041.9,439.6 1043.6,440.9 1045.2,442.2 1046.8,443.6 1048.4,444.9 1050.0,446.2 1051.6,447.5 1053.2,448.8 1054.8,450.2 1056.4,451.5 1058.0,452.9 1059.6,454.2 1061.3,455.5 1062.9,456.9 1064.5,458.3 1066.1,459.6 1067.7,461.0 1069.3,462.3 1070.9,463.7 1072.5,465.0 1074.1,466.4 1075.7,467.7 1077.3,469.1 1078.9,470.4 1080.6,471.8 1082.2,473.1 1083.8,474.4 1085.4,475.7 1087.0,477.0 1088.6,478.2 1090.2,479.5 1091.8,480.7 1093.4,481.9 1095.0,483.1 1096.6,484.3 1098.3,485.4 1099.9,486.5 1101.5,487.6 1103.1,488.7 1104.7,489.7 1106.3,490.7 1107.9,491.7 1109.5,492.6 1111.1,493.5 1112.7,494.4 1114.3,495.3 1115.9,496.1 1117.6,496.9 1119.2,497.6 1120.8,498.3 1122.4,499.0 1124.0,499.7 1125.6,500.3 1127.2,501.0 1128.8,501.5 1130.4,502.1 1132.0,502.6 1133.6,503.1 1135.3,503.6 1136.9,504.1 1138.5,504.5 1140.1,504.9 1141.7,505.3 1143.3,505.7 1144.9,506.0 1146.5,506.3 1148.1,506.6 1149.7,506.9 1151.3,507.1 1152.9,507.3 1154.6,507.6 1156.2,507.7 1157.8,507.9 1159.4,508.1 1161.0,508.2 1162.6,508.3 1164.2,508.4 1165.8,508.5 1167.4,508.5 1169.0,508.6 1170.6,508.6 1172.3,508.6 1173.9,508.6 1175.5,508.6 1177.1,508.6 1178.7,508.5 1180.3,508.5 1181.9,508.4 1183.5,508.3 1185.1,508.2 1186.7,508.1 1188.3,508.0 1189.9,507.8 1191.6,507.7 1193.2,507.5 1194.8,507.4 1196.4,507.2 1198.0,507.0 1199.6,506.8" fill="none" stroke="#000" stroke-width="3.1" stroke-linejoin="round"/>
<line x1="719.6" y1="444.9" x2="1198.6" y2="444.9" stroke="#FF0000" stroke-width="2" stroke-dasharray="2.06 2.06"/>
</g>
<text transform="translate(708.3,308.7) scale(1,1.06)" text-anchor="end" class="tk">1</text>
<text transform="translate(708.3,382.5) scale(1,1.06)" text-anchor="end" class="tk">0.5</text>
<text transform="translate(708.3,456.5) scale(1,1.06)" text-anchor="end" class="tk">0</text>
<text transform="translate(708.3,530.0) scale(1,1.06)" text-anchor="end" class="tk">-0.5</text>
<clipPath id="cs6"><rect x="719.6" y="544.1" width="479.0" height="258.1"/></clipPath>
<rect x="719.6" y="544.1" width="479.0" height="258.1" fill="none" stroke="#4d4d4d" stroke-width="1.4"/>
<line x1="719.6" y1="562.5" x2="724.2" y2="562.5" stroke="#4d4d4d" stroke-width="1.4"/>
<line x1="1198.6" y1="562.5" x2="1194.0" y2="562.5" stroke="#4d4d4d" stroke-width="1.4"/>
<line x1="719.6" y1="662.7" x2="724.2" y2="662.7" stroke="#4d4d4d" stroke-width="1.4"/>
<line x1="1198.6" y1="662.7" x2="1194.0" y2="662.7" stroke="#4d4d4d" stroke-width="1.4"/>
<line x1="719.6" y1="762.7" x2="724.2" y2="762.7" stroke="#4d4d4d" stroke-width="1.4"/>
<line x1="1198.6" y1="762.7" x2="1194.0" y2="762.7" stroke="#4d4d4d" stroke-width="1.4"/>
<line x1="852.7" y1="544.1" x2="852.7" y2="548.7" stroke="#4d4d4d" stroke-width="1.4"/>
<line x1="852.7" y1="802.2" x2="852.7" y2="797.6" stroke="#4d4d4d" stroke-width="1.4"/>
<line x1="985.7" y1="544.1" x2="985.7" y2="548.7" stroke="#4d4d4d" stroke-width="1.4"/>
<line x1="985.7" y1="802.2" x2="985.7" y2="797.6" stroke="#4d4d4d" stroke-width="1.4"/>
<line x1="1118.8" y1="544.1" x2="1118.8" y2="548.7" stroke="#4d4d4d" stroke-width="1.4"/>
<line x1="1118.8" y1="802.2" x2="1118.8" y2="797.6" stroke="#4d4d4d" stroke-width="1.4"/>
<g clip-path="url(#cs6)">
<polygon points="718.6,562.9 720.2,562.8 721.8,562.7 723.4,562.6 725.0,562.5 726.6,562.4 728.3,562.4 729.9,562.3 731.5,562.3 733.1,562.3 734.7,562.3 736.3,562.3 737.9,562.3 739.5,562.4 741.1,562.4 742.7,562.5 744.3,562.6 745.9,562.7 747.6,562.8 749.2,562.9 750.8,563.1 752.4,563.2 754.0,563.4 755.6,563.5 757.2,563.7 758.8,563.9 760.4,564.1 762.0,564.3 763.6,564.6 765.3,564.8 766.9,565.1 768.5,565.3 770.1,565.6 771.7,565.9 773.3,566.2 774.9,566.5 776.5,566.9 778.1,567.2 779.7,567.6 781.3,567.9 782.9,568.3 784.6,568.7 786.2,569.1 787.8,569.5 789.4,569.9 791.0,570.4 792.6,570.8 794.2,571.3 795.8,571.7 797.4,572.2 799.0,572.7 800.6,573.2 802.3,573.7 803.9,574.2 805.5,574.7 807.1,575.3 808.7,575.8 810.3,576.4 811.9,576.9 813.5,577.5 815.1,578.1 816.7,578.7 818.3,579.3 819.9,580.0 821.6,580.6 823.2,581.3 824.8,582.0 826.4,582.6 828.0,583.3 829.6,584.0 831.2,584.8 832.8,585.5 834.4,586.2 836.0,587.0 837.6,587.7 839.3,588.5 840.9,589.3 842.5,590.1 844.1,590.9 845.7,591.6 847.3,592.5 848.9,593.3 850.5,594.1 852.1,594.9 853.7,595.7 855.3,596.5 856.9,597.4 858.6,598.2 860.2,599.0 861.8,599.9 863.4,600.7 865.0,601.6 866.6,602.4 868.2,603.2 869.8,604.1 871.4,604.9 873.0,605.7 874.6,606.6 876.3,607.4 877.9,608.3 879.5,609.1 881.1,609.9 882.7,610.8 884.3,611.6 885.9,612.5 887.5,613.4 889.1,614.2 890.7,615.1 892.3,616.0 893.9,616.8 895.6,617.7 897.2,618.6 898.8,619.5 900.4,620.4 902.0,621.3 903.6,622.2 905.2,623.1 906.8,624.0 908.4,624.8 910.0,625.7 911.6,626.5 913.3,627.4 914.9,628.2 916.5,629.1 918.1,629.9 919.7,630.8 921.3,631.7 922.9,632.5 924.5,633.4 926.1,634.3 927.7,635.2 929.3,636.2 930.9,637.1 932.6,638.1 934.2,639.1 935.8,640.1 937.4,641.1 939.0,642.2 940.6,643.3 942.2,644.4 943.8,645.6 945.4,646.7 947.0,647.9 948.6,649.0 950.3,650.2 951.9,651.4 953.5,652.5 955.1,653.7 956.7,654.9 958.3,656.1 959.9,657.3 961.5,658.4 963.1,659.6 964.7,660.8 966.3,662.0 967.9,663.1 969.6,664.3 971.2,665.5 972.8,666.6 974.4,667.8 976.0,669.0 977.6,670.1 979.2,671.3 980.8,672.5 982.4,673.6 984.0,674.8 985.6,676.0 987.3,677.1 988.9,678.3 990.5,679.5 992.1,680.7 993.7,681.9 995.3,683.1 996.9,684.2 998.5,685.4 1000.1,686.6 1001.7,687.7 1003.3,688.9 1004.9,690.0 1006.6,691.2 1008.2,692.4 1009.8,693.5 1011.4,694.7 1013.0,695.8 1014.6,697.0 1016.2,698.2 1017.8,699.4 1019.4,700.6 1021.0,701.8 1022.6,703.0 1024.3,704.3 1025.9,705.5 1027.5,706.8 1029.1,708.0 1030.7,709.3 1032.3,710.5 1033.9,711.8 1035.5,713.0 1037.1,714.3 1038.7,715.5 1040.3,716.7 1041.9,717.9 1043.6,719.1 1045.2,720.4 1046.8,721.5 1048.4,722.7 1050.0,723.9 1051.6,725.1 1053.2,726.3 1054.8,727.4 1056.4,728.6 1058.0,729.7 1059.6,730.8 1061.3,731.9 1062.9,733.0 1064.5,734.1 1066.1,735.2 1067.7,736.3 1069.3,737.4 1070.9,738.4 1072.5,739.5 1074.1,740.5 1075.7,741.5 1077.3,742.5 1078.9,743.5 1080.6,744.5 1082.2,745.5 1083.8,746.4 1085.4,747.4 1087.0,748.3 1088.6,749.2 1090.2,750.1 1091.8,751.0 1093.4,751.8 1095.0,752.7 1096.6,753.7 1098.3,754.8 1099.9,755.9 1101.5,757.1 1103.1,758.2 1104.7,759.4 1106.3,760.5 1107.9,761.5 1109.5,762.5 1111.1,763.5 1112.7,764.5 1114.3,765.5 1115.9,766.4 1117.6,767.1 1119.2,767.6 1120.8,768.0 1122.4,768.1 1124.0,768.2 1125.6,768.2 1127.2,768.1 1128.8,767.9 1130.4,767.6 1132.0,767.1 1133.6,766.6 1135.3,766.0 1136.9,765.1 1138.5,764.0 1140.1,762.6 1141.7,761.2 1143.3,759.5 1144.9,757.8 1146.5,756.0 1148.1,754.2 1149.7,752.3 1151.3,750.2 1152.9,748.0 1154.6,745.7 1156.2,743.4 1157.8,741.0 1159.4,738.5 1161.0,736.1 1162.6,733.8 1164.2,731.4 1165.8,729.0 1167.4,726.7 1169.0,724.3 1170.6,721.9 1172.3,719.6 1173.9,717.1 1175.5,714.7 1177.1,712.1 1178.7,709.5 1180.3,706.8 1181.9,704.2 1183.5,701.7 1185.1,699.4 1186.7,697.3 1188.3,695.5 1189.9,693.9 1191.6,692.5 1193.2,691.2 1194.8,690.1 1196.4,689.1 1198.0,688.4 1199.6,688.0 1199.6,773.0 1198.0,773.2 1196.4,773.4 1194.8,773.6 1193.2,773.9 1191.6,774.2 1189.9,774.6 1188.3,775.1 1186.7,775.6 1185.1,776.0 1183.5,776.4 1181.9,776.8 1180.3,777.2 1178.7,777.5 1177.1,777.9 1175.5,778.3 1173.9,778.6 1172.3,778.7 1170.6,778.7 1169.0,778.6 1167.4,778.4 1165.8,778.3 1164.2,778.3 1162.6,778.4 1161.0,778.9 1159.4,779.4 1157.8,780.0 1156.2,780.5 1154.6,781.1 1152.9,781.8 1151.3,782.5 1149.7,783.2 1148.1,784.0 1146.5,784.8 1144.9,785.7 1143.3,786.4 1141.7,787.1 1140.1,787.8 1138.5,788.5 1136.9,789.1 1135.3,789.6 1133.6,790.1 1132.0,790.5 1130.4,790.9 1128.8,791.2 1127.2,791.4 1125.6,791.6 1124.0,791.7 1122.4,791.7 1120.8,791.6 1119.2,791.4 1117.6,791.1 1115.9,790.8 1114.3,790.4 1112.7,789.9 1111.1,789.4 1109.5,788.9 1107.9,788.3 1106.3,787.7 1104.7,787.1 1103.1,786.5 1101.5,785.9 1099.9,785.2 1098.3,784.5 1096.6,783.8 1095.0,783.1 1093.4,782.4 1091.8,781.6 1090.2,780.9 1088.6,780.2 1087.0,779.5 1085.4,778.7 1083.8,778.0 1082.2,777.3 1080.6,776.6 1078.9,775.8 1077.3,775.0 1075.7,774.3 1074.1,773.5 1072.5,772.7 1070.9,771.9 1069.3,771.0 1067.7,770.1 1066.1,769.2 1064.5,768.3 1062.9,767.4 1061.3,766.4 1059.6,765.4 1058.0,764.5 1056.4,763.5 1054.8,762.5 1053.2,761.5 1051.6,760.4 1050.0,759.4 1048.4,758.4 1046.8,757.3 1045.2,756.3 1043.6,755.3 1041.9,754.2 1040.3,753.2 1038.7,752.2 1037.1,751.2 1035.5,750.2 1033.9,749.2 1032.3,748.3 1030.7,747.3 1029.1,746.2 1027.5,745.1 1025.9,744.0 1024.3,742.8 1022.6,741.6 1021.0,740.4 1019.4,739.2 1017.8,738.0 1016.2,736.7 1014.6,735.5 1013.0,734.2 1011.4,733.0 1009.8,731.7 1008.2,730.5 1006.6,729.2 1004.9,727.9 1003.3,726.7 1001.7,725.4 1000.1,724.2 998.5,722.9 996.9,721.7 995.3,720.5 993.7,719.3 992.1,718.1 990.5,716.9 988.9,715.8 987.3,714.6 985.6,713.5 984.0,712.5 982.4,711.4 980.8,710.3 979.2,709.3 977.6,708.2 976.0,707.1 974.4,706.1 972.8,705.0 971.2,703.9 969.6,702.8 967.9,701.7 966.3,700.5 964.7,699.3 963.1,698.1 961.5,696.9 959.9,695.7 958.3,694.4 956.7,693.2 955.1,692.0 953.5,690.8 951.9,689.5 950.3,688.3 948.6,687.1 947.0,685.9 945.4,684.7 943.8,683.5 942.2,682.3 940.6,681.1 939.0,679.9 937.4,678.7 935.8,677.5 934.2,676.3 932.6,675.1 930.9,673.9 929.3,672.7 927.7,671.5 926.1,670.3 924.5,669.0 922.9,667.8 921.3,666.5 919.7,665.2 918.1,664.0 916.5,662.7 914.9,661.4 913.3,660.2 911.6,658.9 910.0,657.6 908.4,656.4 906.8,655.2 905.2,654.0 903.6,652.8 902.0,651.6 900.4,650.5 898.8,649.4 897.2,648.3 895.6,647.2 893.9,646.1 892.3,645.0 890.7,643.9 889.1,642.8 887.5,641.8 885.9,640.7 884.3,639.7 882.7,638.6 881.1,637.6 879.5,636.6 877.9,635.6 876.3,634.6 874.6,633.6 873.0,632.6 871.4,631.7 869.8,630.7 868.2,629.8 866.6,628.9 865.0,628.0 863.4,627.1 861.8,626.2 860.2,625.4 858.6,624.5 856.9,623.7 855.3,622.8 853.7,622.0 852.1,621.2 850.5,620.4 848.9,619.6 847.3,618.8 845.7,618.0 844.1,617.3 842.5,616.5 840.9,615.8 839.3,615.0 837.6,614.3 836.0,613.6 834.4,612.8 832.8,612.1 831.2,611.4 829.6,610.7 828.0,610.1 826.4,609.4 824.8,608.7 823.2,608.1 821.6,607.4 819.9,606.8 818.3,606.2 816.7,605.5 815.1,604.9 813.5,604.3 811.9,603.7 810.3,603.1 808.7,602.5 807.1,601.9 805.5,601.4 803.9,600.8 802.3,600.2 800.6,599.7 799.0,599.2 797.4,598.6 795.8,598.1 794.2,597.6 792.6,597.1 791.0,596.6 789.4,596.1 787.8,595.7 786.2,595.3 784.6,594.8 782.9,594.4 781.3,594.0 779.7,593.6 778.1,593.3 776.5,592.9 774.9,592.6 773.3,592.3 771.7,592.0 770.1,591.7 768.5,591.4 766.9,591.1 765.3,590.9 763.6,590.6 762.0,590.4 760.4,590.2 758.8,589.9 757.2,589.8 755.6,589.6 754.0,589.4 752.4,589.2 750.8,589.1 749.2,588.9 747.6,588.8 745.9,588.7 744.3,588.6 742.7,588.5 741.1,588.4 739.5,588.3 737.9,588.2 736.3,588.2 734.7,588.2 733.1,588.1 731.5,588.1 729.9,588.1 728.3,588.1 726.6,588.2 725.0,588.2 723.4,588.2 721.8,588.3 720.2,588.4 718.6,588.5" fill="#EDB120" stroke="#EDB120" stroke-width="0.8"/>
<g fill="none" stroke="#3c3c3c" stroke-width="1.1">
<circle cx="745.0" cy="574.7" r="5.8"/>
<circle cx="758.7" cy="576.7" r="5.8"/>
<circle cx="771.7" cy="580.0" r="5.8"/>
<circle cx="785.0" cy="582.5" r="5.8"/>
<circle cx="798.3" cy="586.7" r="5.8"/>
<circle cx="811.7" cy="590.0" r="5.8"/>
<circle cx="825.3" cy="593.7" r="5.8"/>
<circle cx="838.7" cy="599.2" r="5.8"/>
<circle cx="852.0" cy="604.2" r="5.8"/>
<circle cx="865.8" cy="610.8" r="5.8"/>
<circle cx="879.2" cy="617.5" r="5.8"/>
<circle cx="892.5" cy="624.7" r="5.8"/>
<circle cx="906.3" cy="634.2" r="5.8"/>
<circle cx="919.7" cy="642.8" r="5.8"/>
<circle cx="933.0" cy="649.9" r="5.8"/>
<circle cx="946.4" cy="660.9" r="5.8"/>
<circle cx="959.8" cy="670.3" r="5.8"/>
<circle cx="973.1" cy="681.3" r="5.8"/>
<circle cx="986.5" cy="692.4" r="5.8"/>
<circle cx="999.4" cy="704.2" r="5.8"/>
<circle cx="1013.0" cy="716.7" r="5.8"/>
<circle cx="1025.8" cy="730.1" r="5.8"/>
<circle cx="1041.3" cy="744.7" r="5.8"/>
<circle cx="1052.8" cy="755.5" r="5.8"/>
<circle cx="1065.6" cy="765.6" r="5.8"/>
<circle cx="1079.1" cy="774.3" r="5.8"/>
<circle cx="1092.6" cy="779.7" r="5.8"/>
<circle cx="1106.0" cy="780.4" r="5.8"/>
<circle cx="1119.5" cy="775.0" r="5.8"/>
<circle cx="1133.0" cy="771.0" r="5.8"/>
<circle cx="1146.5" cy="761.5" r="5.8"/>
<circle cx="1159.3" cy="756.1" r="5.8"/>
<circle cx="1172.0" cy="750.0" r="5.8"/>
<circle cx="1175.0" cy="748.0" r="5.8"/>
<circle cx="1178.0" cy="746.5" r="5.8"/>
<circle cx="1181.0" cy="747.0" r="5.8"/>
</g>
<polyline points="718.6,572.0 720.2,571.9 721.8,571.9 723.4,571.8 725.0,571.8 726.6,571.8 728.3,571.8 729.9,571.8 731.5,571.8 733.1,571.9 734.7,571.9 736.3,572.0 737.9,572.1 739.5,572.2 741.1,572.3 742.7,572.4 744.3,572.5 745.9,572.6 747.6,572.8 749.2,572.9 750.8,573.1 752.4,573.3 754.0,573.5 755.6,573.7 757.2,573.9 758.8,574.1 760.4,574.4 762.0,574.6 763.6,574.9 765.3,575.2 766.9,575.5 768.5,575.8 770.1,576.1 771.7,576.4 773.3,576.7 774.9,577.1 776.5,577.4 778.1,577.8 779.7,578.1 781.3,578.5 782.9,578.9 784.6,579.3 786.2,579.7 787.8,580.2 789.4,580.6 791.0,581.0 792.6,581.5 794.2,582.0 795.8,582.4 797.4,582.9 799.0,583.4 800.6,583.9 802.3,584.4 803.9,585.0 805.5,585.5 807.1,586.0 808.7,586.6 810.3,587.2 811.9,587.7 813.5,588.3 815.1,588.9 816.7,589.5 818.3,590.1 819.9,590.8 821.6,591.4 823.2,592.0 824.8,592.7 826.4,593.3 828.0,594.0 829.6,594.7 831.2,595.4 832.8,596.1 834.4,596.8 836.0,597.5 837.6,598.2 839.3,598.9 840.9,599.7 842.5,600.4 844.1,601.2 845.7,601.9 847.3,602.7 848.9,603.5 850.5,604.3 852.1,605.0 853.7,605.9 855.3,606.7 856.9,607.5 858.6,608.3 860.2,609.1 861.8,610.0 863.4,610.8 865.0,611.7 866.6,612.6 868.2,613.4 869.8,614.3 871.4,615.2 873.0,616.1 874.6,617.0 876.3,617.9 877.9,618.9 879.5,619.8 881.1,620.7 882.7,621.7 884.3,622.6 885.9,623.6 887.5,624.5 889.1,625.5 890.7,626.5 892.3,627.5 893.9,628.4 895.6,629.4 897.2,630.4 898.8,631.4 900.4,632.5 902.0,633.5 903.6,634.5 905.2,635.6 906.8,636.6 908.4,637.6 910.0,638.7 911.6,639.8 913.3,640.8 914.9,641.9 916.5,643.0 918.1,644.1 919.7,645.2 921.3,646.2 922.9,647.4 924.5,648.5 926.1,649.6 927.7,650.7 929.3,651.8 930.9,652.9 932.6,654.1 934.2,655.2 935.8,656.4 937.4,657.5 939.0,658.7 940.6,659.8 942.2,661.0 943.8,662.2 945.4,663.4 947.0,664.5 948.6,665.7 950.3,666.9 951.9,668.1 953.5,669.3 955.1,670.5 956.7,671.7 958.3,673.0 959.9,674.2 961.5,675.4 963.1,676.6 964.7,677.9 966.3,679.1 967.9,680.3 969.6,681.6 971.2,682.8 972.8,684.1 974.4,685.3 976.0,686.6 977.6,687.9 979.2,689.1 980.8,690.4 982.4,691.7 984.0,693.0 985.6,694.3 987.3,695.5 988.9,696.8 990.5,698.1 992.1,699.4 993.7,700.7 995.3,702.0 996.9,703.3 998.5,704.6 1000.1,705.9 1001.7,707.2 1003.3,708.5 1004.9,709.8 1006.6,711.1 1008.2,712.4 1009.8,713.7 1011.4,715.0 1013.0,716.3 1014.6,717.6 1016.2,718.8 1017.8,720.1 1019.4,721.4 1021.0,722.7 1022.6,724.0 1024.3,725.2 1025.9,726.5 1027.5,727.8 1029.1,729.0 1030.7,730.3 1032.3,731.5 1033.9,732.8 1035.5,734.0 1037.1,735.3 1038.7,736.5 1040.3,737.7 1041.9,738.9 1043.6,740.1 1045.2,741.4 1046.8,742.5 1048.4,743.7 1050.0,744.9 1051.6,746.1 1053.2,747.3 1054.8,748.4 1056.4,749.6 1058.0,750.7 1059.6,751.8 1061.3,752.9 1062.9,754.0 1064.5,755.1 1066.1,756.2 1067.7,757.3 1069.3,758.4 1070.9,759.4 1072.5,760.5 1074.1,761.5 1075.7,762.5 1077.3,763.5 1078.9,764.5 1080.6,765.5 1082.2,766.5 1083.8,767.4 1085.4,768.4 1087.0,769.3 1088.6,770.2 1090.2,771.1 1091.8,772.0 1093.4,772.8 1095.0,773.7 1096.6,774.5 1098.3,775.3 1099.9,776.1 1101.5,776.9 1103.1,777.6 1104.7,778.3 1106.3,778.9 1107.9,779.5 1109.5,780.1 1111.1,780.6 1112.7,781.0 1114.3,781.4 1115.9,781.7 1117.6,781.9 1119.2,782.1 1120.8,782.2 1122.4,782.2 1124.0,782.1 1125.6,782.0 1127.2,781.7 1128.8,781.4 1130.4,781.0 1132.0,780.6 1133.6,780.0 1135.3,779.4 1136.9,778.7 1138.5,778.0 1140.1,777.1 1141.7,776.2 1143.3,775.2 1144.9,774.2 1146.5,773.0 1148.1,771.8 1149.7,770.6 1151.3,769.2 1152.9,767.8 1154.6,766.4 1156.2,764.9 1157.8,763.4 1159.4,761.9 1161.0,760.3 1162.6,758.7 1164.2,757.1 1165.8,755.5 1167.4,753.9 1169.0,752.3 1170.6,750.7 1172.3,749.1 1173.9,747.6 1175.5,746.1 1177.1,744.6 1178.7,743.2 1180.3,741.9 1181.9,740.6 1183.5,739.3 1185.1,738.2 1186.7,737.1 1188.3,736.1 1189.9,735.1 1191.6,734.3 1193.2,733.6 1194.8,733.0 1196.4,732.5 1198.0,732.1 1199.6,731.9" fill="none" stroke="#000" stroke-width="3.1" stroke-linejoin="round"/>
<line x1="719.6" y1="762.9" x2="1198.6" y2="762.9" stroke="#FF0000" stroke-width="2" stroke-dasharray="2.06 2.06"/>
</g>
<text transform="translate(708.3,574.1) scale(1,1.06)" text-anchor="end" class="tk">1</text>
<text transform="translate(708.3,674.3) scale(1,1.06)" text-anchor="end" class="tk">0.5</text>
<text transform="translate(708.3,774.3) scale(1,1.06)" text-anchor="end" class="tk">0</text>
<text transform="translate(719.1,842.6) scale(1,1.06)" text-anchor="middle" class="tk">0</text>
<text transform="translate(852.2,842.6) scale(1,1.06)" text-anchor="middle" class="tk">50</text>
<text transform="translate(985.2,842.6) scale(1,1.06)" text-anchor="middle" class="tk">100</text>
<text transform="translate(1118.3,842.6) scale(1,1.06)" text-anchor="middle" class="tk">150</text>

<rect x="235.25" y="23.25" width="337.7" height="70.8" fill="#fff" stroke="#4d4d4d" stroke-width="1.4"/>
<line x1="243.2" y1="42.3" x2="307.2" y2="42.3" stroke="#000" stroke-width="3.3"/>
<circle cx="275" cy="76.2" r="6.6" fill="none" stroke="#333" stroke-width="1.1"/>
<text x="314" y="51.9" class="lg">Model (632.80nm)</text>
<text x="314" y="84.9" class="lg">Measured (632.80nm)</text>

<g transform="translate(26.3,206.3) rotate(-90)">
<text x="0" y="0" class="yl">l</text>
<text x="9.5" y="0" class="yl">o</text>
<text x="25" y="0" class="yl">g</text>
<text x="42.5" y="5" class="ys">10</text>
<text x="69.5" y="2" class="yp">(</text>
<text x="80.5" y="0" class="yl">a</text>
<text x="99.5" y="5" class="ys">1</text>
<text x="113.5" y="2" class="yp">)</text>
</g>
<g transform="translate(37.4,449.6) rotate(-90)">
<text x="0.0" y="0" class="yl">a</text>
<text x="19.19" y="5" class="ys">2</text>
<text x="35.18" y="0" class="yl">/</text>
<text x="50.64" y="0" class="yl">a</text>
<text x="69.82" y="5" class="ys">1</text>
</g>
<g transform="translate(31.4,709.2) rotate(-90)">
<text x="0" y="0" class="yl">b</text>
<text x="15.5" y="5" class="ys">2</text>
<text x="30" y="0" class="yl">/</text>
<text x="44.5" y="0" class="yl">a</text>
<text x="62.5" y="5" class="ys">1</text>
</g>
<g transform="translate(621.3,192.3) rotate(-90)">
<text x="0.0" y="0" class="ym">−</text>
<text x="25.03" y="0" class="yl">b</text>
<text x="41.2" y="5" class="ys">1</text>
<text x="56.32" y="0" class="yl">/</text>
<text x="71.45" y="0" class="yl">a</text>
<text x="90.22" y="5" class="ys">1</text>
</g>
<g transform="translate(638.4,447.6) rotate(-90)">
<text x="0.0" y="0" class="yl">a</text>
<text x="18.68" y="5" class="ys">3</text>
<text x="34.25" y="0" class="yl">/</text>
<text x="49.3" y="0" class="yl">a</text>
<text x="67.99" y="5" class="ys">1</text>
</g>
<g transform="translate(649.5,712.4) rotate(-90)">
<text x="0.0" y="0" class="yl">a</text>
<text x="18.67" y="5" class="ys">4</text>
<text x="34.22" y="0" class="yl">/</text>
<text x="49.26" y="0" class="yl">a</text>
<text x="67.92" y="5" class="ys">1</text>
</g>
<text x="318.6" y="879.7" class="th">θ</text><text x="336.1" y="881" class="xp">(</text><circle cx="357.6" cy="871.8" r="5.4" fill="none" stroke="#262626" stroke-width="1.2"/><text x="365.6" y="881" class="xp">)</text>
<text x="929.6" y="879.7" class="th">θ</text><text x="947.1" y="881" class="xp">(</text><circle cx="968.6" cy="871.8" r="5.4" fill="none" stroke="#262626" stroke-width="1.2"/><text x="976.6" y="881" class="xp">)</text>
</svg>
</body></html>
